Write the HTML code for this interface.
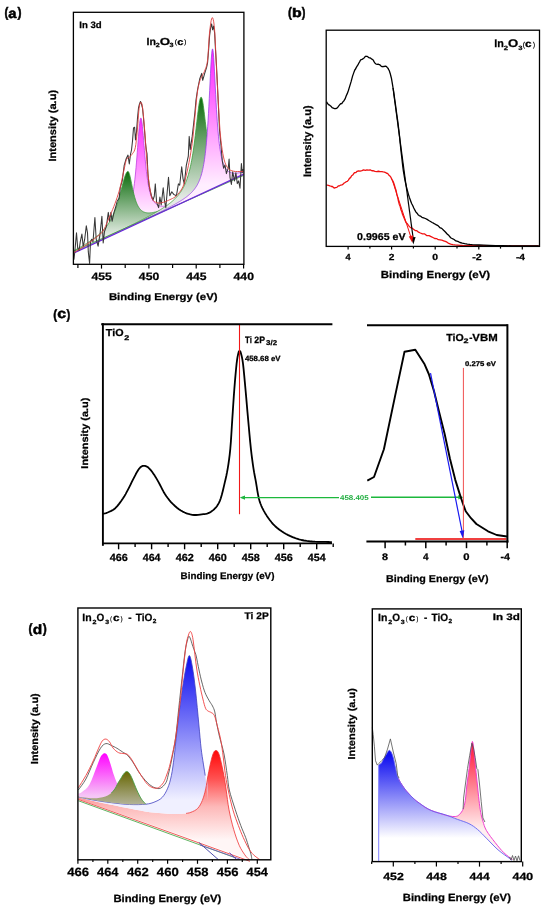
<!DOCTYPE html><html><head><meta charset="utf-8"><style>html,body{margin:0;padding:0;background:#fff;width:550px;height:910px;overflow:hidden}svg{display:block} #w{will-change:transform;width:550px;height:910px}</style></head><body><div id="w"><svg width="550" height="910" viewBox="0 0 550 910" text-rendering="geometricPrecision" font-family='"Liberation Sans", sans-serif'>
<rect width="550" height="910" fill="#fff"/>
<defs>
<linearGradient id="ga_gs" gradientUnits="userSpaceOnUse" x1="0" y1="172" x2="0" y2="238"><stop offset="0" stop-color="#0c6c0c" stop-opacity="1"/><stop offset="1" stop-color="#eef2ee" stop-opacity="1"/></linearGradient>
<linearGradient id="ga_gb" gradientUnits="userSpaceOnUse" x1="0" y1="97" x2="0" y2="198"><stop offset="0" stop-color="#0c6c0c" stop-opacity="1"/><stop offset="1" stop-color="#e4eae4" stop-opacity="1"/></linearGradient>
<linearGradient id="ga_ps" gradientUnits="userSpaceOnUse" x1="0" y1="118" x2="0" y2="215"><stop offset="0" stop-color="#ff28ff" stop-opacity="1"/><stop offset="1" stop-color="#fff0ff" stop-opacity="1"/></linearGradient>
<linearGradient id="ga_pb" gradientUnits="userSpaceOnUse" x1="0" y1="49" x2="0" y2="185"><stop offset="0" stop-color="#ff20ff" stop-opacity="1"/><stop offset="1" stop-color="#ffeeff" stop-opacity="1"/></linearGradient>
</defs>
<path d="M74.00,252.10 L74.40,251.90 L74.80,251.71 L75.20,251.52 L75.60,251.33 L76.00,251.14 L76.40,250.94 L76.80,250.75 L77.20,250.56 L77.60,250.36 L78.00,250.17 L78.40,249.98 L78.80,249.78 L79.20,249.59 L79.60,249.39 L80.00,249.20 L80.40,249.01 L80.80,248.81 L81.20,248.62 L81.60,248.42 L82.00,248.23 L82.40,248.03 L82.81,247.83 L83.21,247.64 L83.61,247.44 L84.01,247.25 L84.41,247.05 L84.81,246.85 L85.21,246.66 L85.61,246.46 L86.01,246.26 L86.41,246.06 L86.81,245.86 L87.21,245.66 L87.61,245.47 L88.01,245.27 L88.41,245.07 L88.81,244.87 L89.21,244.67 L89.61,244.47 L90.01,244.26 L90.41,244.06 L90.81,243.86 L91.21,243.66 L91.61,243.46 L92.01,243.25 L92.41,243.05 L92.81,242.84 L93.21,242.64 L93.61,242.43 L94.01,242.23 L94.41,242.02 L94.81,241.82 L95.21,241.61 L95.61,241.40 L96.01,241.19 L96.41,240.98 L96.81,240.77 L97.21,240.56 L97.61,240.35 L98.01,240.14 L98.41,239.93 L98.81,239.71 L99.21,239.50 L99.62,239.28 L100.02,239.07 L100.42,238.85 L100.82,238.63 L101.22,238.41 L101.62,238.19 L102.02,237.97 L102.42,237.75 L102.82,237.53 L103.22,237.30 L103.62,237.07 L104.02,236.85 L104.42,236.62 L104.82,236.39 L105.22,236.16 L105.62,235.92 L106.02,235.69 L106.42,235.45 L106.82,235.21 L107.22,234.97 L107.62,234.73 L108.02,234.49 L108.42,234.24 L108.82,233.99 L109.22,233.74 L109.62,233.49 L110.02,233.23 L110.42,232.97 L110.82,232.71 L111.22,232.45 L111.62,232.18 L112.02,231.91 L112.42,231.63 L112.82,231.35 L113.22,231.07 L113.62,230.78 L114.02,230.49 L114.42,230.20 L114.82,229.90 L115.22,229.59 L115.62,229.28 L116.02,228.96 L116.43,228.64 L116.83,228.31 L117.23,227.97 L117.63,227.63 L118.03,227.27 L118.43,226.91 L118.83,226.54 L119.23,226.16 L119.63,225.77 L120.03,225.37 L120.43,224.96 L120.83,224.53 L121.23,224.09 L121.63,223.64 L122.03,223.17 L122.43,222.68 L122.83,222.18 L123.23,221.65 L123.63,221.11 L124.03,220.54 L124.43,219.94 L124.83,219.32 L125.23,218.67 L125.63,217.99 L126.03,217.27 L126.43,216.51 L126.83,215.71 L127.23,214.87 L127.63,213.97 L128.03,213.02 L128.43,212.01 L128.83,210.93 L129.23,209.78 L129.63,208.54 L130.03,207.22 L130.43,205.80 L130.83,204.27 L131.23,202.62 L131.63,200.83 L132.03,198.90 L132.43,196.80 L132.83,194.52 L133.23,192.05 L133.64,189.35 L134.04,186.42 L134.44,183.23 L134.84,179.76 L135.24,176.00 L135.64,171.94 L136.04,167.58 L136.44,162.91 L136.84,157.97 L137.24,152.79 L137.64,147.47 L138.04,142.09 L138.44,136.80 L138.84,131.79 L139.24,127.25 L139.64,123.40 L140.04,120.46 L140.44,118.59 L140.84,117.92 L141.24,118.46 L141.64,120.19 L142.04,122.95 L142.44,126.59 L142.84,130.87 L143.24,135.58 L143.64,140.53 L144.04,145.54 L144.44,150.47 L144.84,155.23 L145.24,159.76 L145.64,164.00 L146.04,167.94 L146.44,171.57 L146.84,174.90 L147.24,177.94 L147.64,180.71 L148.04,183.22 L148.44,185.50 L148.84,187.57 L149.24,189.44 L149.64,191.14 L150.04,192.67 L150.45,194.06 L150.85,195.32 L151.25,196.46 L151.65,197.49 L152.05,198.43 L152.45,199.27 L152.85,200.04 L153.25,200.74 L153.65,201.37 L154.05,201.94 L154.45,202.45 L154.85,202.92 L155.25,203.34 L155.65,203.72 L156.05,204.06 L156.45,204.37 L156.85,204.65 L157.25,204.90 L157.65,205.12 L158.05,205.31 L158.45,205.49 L158.85,205.64 L159.25,205.77 L159.65,205.88 L160.05,205.98 L160.45,206.06 L160.85,206.13 L161.25,206.19 L161.65,206.23 L162.05,206.26 L162.45,206.28 L162.85,206.28 L163.25,206.28 L163.65,206.27 L164.05,206.26 L164.45,206.23 L164.85,206.20 L165.25,206.16 L165.65,206.11 L166.05,206.06 L166.45,206.00 L166.85,205.93 L167.26,205.86 L167.66,205.79 L168.06,205.71 L168.46,205.63 L168.86,205.54 L169.26,205.45 L169.66,205.35 L170.06,205.26 L170.46,205.15 L170.86,205.05 L171.26,204.94 L171.66,204.83 L172.06,204.72 L172.46,204.60 L172.86,204.48 L173.26,204.36 L173.66,204.24 L174.06,204.11 L174.46,203.99 L174.86,203.86 L175.26,203.73 L175.66,203.59 L176.06,203.46 L176.46,203.32 L176.86,203.19 L177.26,203.05 L177.66,202.91 L178.06,202.76 L178.46,202.62 L178.86,202.48 L179.26,202.33 L179.66,202.18 L180.06,202.04 L180.46,201.89 L180.86,201.74 L181.26,201.59 L181.66,201.43 L182.06,201.28 L182.46,201.13 L182.86,200.97 L183.26,200.82 L183.66,200.66 L184.07,200.50 L184.47,200.34 L184.87,200.19 L185.27,200.03 L185.67,199.87 L186.07,199.71 L186.47,199.55 L186.87,199.38 L187.27,199.22 L187.67,199.06 L188.07,198.89 L188.47,198.73 L188.87,198.57 L189.27,198.40 L189.67,198.24 L190.07,198.07 L190.47,197.90 L190.87,197.74 L191.27,197.57 L191.67,197.40 L192.07,197.23 L192.47,197.07 L192.87,196.90 L193.27,196.73 L193.67,196.56 L194.07,196.39 L194.47,196.22 L194.87,196.05 L195.27,195.88 L195.67,195.71 L196.07,195.54 L196.47,195.36 L196.87,195.19 L197.27,195.02 L197.67,194.85 L198.07,194.68 L198.47,194.50 L198.87,194.33 L199.27,194.16 L199.67,193.98 L200.07,193.81 L200.47,193.63 L200.87,193.46 L201.28,193.29 L201.68,193.11 L202.08,192.94 L202.48,192.76 L202.88,192.59 L203.28,192.41 L203.68,192.24 L204.08,192.06 L204.48,191.88 L204.88,191.71 L205.28,191.53 L205.68,191.36 L206.08,191.18 L206.48,191.00 L206.88,190.83 L207.28,190.65 L207.68,190.47 L208.08,190.30 L208.48,190.12 L208.88,189.94 L209.28,189.76 L209.68,189.59 L210.08,189.41 L210.48,189.23 L210.88,189.05 L211.28,188.87 L211.68,188.70 L212.08,188.52 L212.48,188.34 L212.88,188.16 L213.28,187.98 L213.68,187.80 L214.08,187.62 L214.48,187.45 L214.88,187.27 L215.28,187.09 L215.68,186.91 L216.08,186.73 L216.48,186.55 L216.88,186.37 L217.28,186.19 L217.68,186.01 L218.09,185.83 L218.49,185.65 L218.89,185.47 L219.29,185.29 L219.69,185.11 L220.09,184.93 L220.49,184.75 L220.89,184.57 L221.29,184.39 L221.69,184.21 L222.09,184.03 L222.49,183.85 L222.89,183.67 L223.29,183.49 L223.69,183.31 L224.09,183.13 L224.49,182.95 L224.89,182.77 L225.29,182.59 L225.69,182.41 L226.09,182.22 L226.49,182.04 L226.89,181.86 L227.29,181.68 L227.69,181.50 L228.09,181.32 L228.49,181.14 L228.89,180.96 L229.29,180.78 L229.69,180.59 L230.09,180.41 L230.49,180.23 L230.89,180.05 L231.29,179.87 L231.69,179.69 L232.09,179.51 L232.49,179.32 L232.89,179.14 L233.29,178.96 L233.69,178.78 L234.09,178.60 L234.49,178.42 L234.90,178.23 L235.30,178.05 L235.70,177.87 L236.10,177.69 L236.50,177.51 L236.90,177.32 L237.30,177.14 L237.70,176.96 L238.10,176.78 L238.50,176.60 L238.90,176.41 L239.30,176.23 L239.70,176.05 L240.10,175.87 L240.50,175.69 L240.90,175.50 L241.30,175.32 L241.70,175.14 L242.10,174.96 L242.50,174.77 L242.90,174.59 L243.30,174.41 L243.30,174.68 L74.00,252.72Z" fill="url(#ga_ps)" stroke="none" />
<path d="M74.00,252.10 L74.40,251.90 L74.80,251.71 L75.20,251.52 L75.60,251.33 L76.00,251.14 L76.40,250.94 L76.80,250.75 L77.20,250.56 L77.60,250.36 L78.00,250.17 L78.40,249.98 L78.80,249.78 L79.20,249.59 L79.60,249.39 L80.00,249.20 L80.40,249.01 L80.80,248.81 L81.20,248.62 L81.60,248.42 L82.00,248.23 L82.40,248.03 L82.81,247.83 L83.21,247.64 L83.61,247.44 L84.01,247.25 L84.41,247.05 L84.81,246.85 L85.21,246.66 L85.61,246.46 L86.01,246.26 L86.41,246.06 L86.81,245.86 L87.21,245.66 L87.61,245.47 L88.01,245.27 L88.41,245.07 L88.81,244.87 L89.21,244.67 L89.61,244.47 L90.01,244.26 L90.41,244.06 L90.81,243.86 L91.21,243.66 L91.61,243.46 L92.01,243.25 L92.41,243.05 L92.81,242.84 L93.21,242.64 L93.61,242.43 L94.01,242.23 L94.41,242.02 L94.81,241.82 L95.21,241.61 L95.61,241.40 L96.01,241.19 L96.41,240.98 L96.81,240.77 L97.21,240.56 L97.61,240.35 L98.01,240.14 L98.41,239.93 L98.81,239.71 L99.21,239.50 L99.62,239.28 L100.02,239.07 L100.42,238.85 L100.82,238.63 L101.22,238.41 L101.62,238.19 L102.02,237.97 L102.42,237.75 L102.82,237.53 L103.22,237.30 L103.62,237.07 L104.02,236.85 L104.42,236.62 L104.82,236.39 L105.22,236.16 L105.62,235.92 L106.02,235.69 L106.42,235.45 L106.82,235.21 L107.22,234.97 L107.62,234.73 L108.02,234.49 L108.42,234.24 L108.82,233.99 L109.22,233.74 L109.62,233.49 L110.02,233.23 L110.42,232.97 L110.82,232.71 L111.22,232.45 L111.62,232.18 L112.02,231.91 L112.42,231.63 L112.82,231.35 L113.22,231.07 L113.62,230.78 L114.02,230.49 L114.42,230.20 L114.82,229.90 L115.22,229.59 L115.62,229.28 L116.02,228.96 L116.43,228.64 L116.83,228.31 L117.23,227.97 L117.63,227.63 L118.03,227.27 L118.43,226.91 L118.83,226.54 L119.23,226.16 L119.63,225.77 L120.03,225.37 L120.43,224.96 L120.83,224.53 L121.23,224.09 L121.63,223.64 L122.03,223.17 L122.43,222.68 L122.83,222.18 L123.23,221.65 L123.63,221.11 L124.03,220.54 L124.43,219.94 L124.83,219.32 L125.23,218.67 L125.63,217.99 L126.03,217.27 L126.43,216.51 L126.83,215.71 L127.23,214.87 L127.63,213.97 L128.03,213.02 L128.43,212.01 L128.83,210.93 L129.23,209.78 L129.63,208.54 L130.03,207.22 L130.43,205.80 L130.83,204.27 L131.23,202.62 L131.63,200.83 L132.03,198.90 L132.43,196.80 L132.83,194.52 L133.23,192.05 L133.64,189.35 L134.04,186.42 L134.44,183.23 L134.84,179.76 L135.24,176.00 L135.64,171.94 L136.04,167.58 L136.44,162.91 L136.84,157.97 L137.24,152.79 L137.64,147.47 L138.04,142.09 L138.44,136.80 L138.84,131.79 L139.24,127.25 L139.64,123.40 L140.04,120.46 L140.44,118.59 L140.84,117.92 L141.24,118.46 L141.64,120.19 L142.04,122.95 L142.44,126.59 L142.84,130.87 L143.24,135.58 L143.64,140.53 L144.04,145.54 L144.44,150.47 L144.84,155.23 L145.24,159.76 L145.64,164.00 L146.04,167.94 L146.44,171.57 L146.84,174.90 L147.24,177.94 L147.64,180.71 L148.04,183.22 L148.44,185.50 L148.84,187.57 L149.24,189.44 L149.64,191.14 L150.04,192.67 L150.45,194.06 L150.85,195.32 L151.25,196.46 L151.65,197.49 L152.05,198.43 L152.45,199.27 L152.85,200.04 L153.25,200.74 L153.65,201.37 L154.05,201.94 L154.45,202.45 L154.85,202.92 L155.25,203.34 L155.65,203.72 L156.05,204.06 L156.45,204.37 L156.85,204.65 L157.25,204.90 L157.65,205.12 L158.05,205.31 L158.45,205.49 L158.85,205.64 L159.25,205.77 L159.65,205.88 L160.05,205.98 L160.45,206.06 L160.85,206.13 L161.25,206.19 L161.65,206.23 L162.05,206.26 L162.45,206.28 L162.85,206.28 L163.25,206.28 L163.65,206.27 L164.05,206.26 L164.45,206.23 L164.85,206.20 L165.25,206.16 L165.65,206.11 L166.05,206.06 L166.45,206.00 L166.85,205.93 L167.26,205.86 L167.66,205.79 L168.06,205.71 L168.46,205.63 L168.86,205.54 L169.26,205.45 L169.66,205.35 L170.06,205.26 L170.46,205.15 L170.86,205.05 L171.26,204.94 L171.66,204.83 L172.06,204.72 L172.46,204.60 L172.86,204.48 L173.26,204.36 L173.66,204.24 L174.06,204.11 L174.46,203.99 L174.86,203.86 L175.26,203.73 L175.66,203.59 L176.06,203.46 L176.46,203.32 L176.86,203.19 L177.26,203.05 L177.66,202.91 L178.06,202.76 L178.46,202.62 L178.86,202.48 L179.26,202.33 L179.66,202.18 L180.06,202.04 L180.46,201.89 L180.86,201.74 L181.26,201.59 L181.66,201.43 L182.06,201.28 L182.46,201.13 L182.86,200.97 L183.26,200.82 L183.66,200.66 L184.07,200.50 L184.47,200.34 L184.87,200.19 L185.27,200.03 L185.67,199.87 L186.07,199.71 L186.47,199.55 L186.87,199.38 L187.27,199.22 L187.67,199.06 L188.07,198.89 L188.47,198.73 L188.87,198.57 L189.27,198.40 L189.67,198.24 L190.07,198.07 L190.47,197.90 L190.87,197.74 L191.27,197.57 L191.67,197.40 L192.07,197.23 L192.47,197.07 L192.87,196.90 L193.27,196.73 L193.67,196.56 L194.07,196.39 L194.47,196.22 L194.87,196.05 L195.27,195.88 L195.67,195.71 L196.07,195.54 L196.47,195.36 L196.87,195.19 L197.27,195.02 L197.67,194.85 L198.07,194.68 L198.47,194.50 L198.87,194.33 L199.27,194.16 L199.67,193.98 L200.07,193.81 L200.47,193.63 L200.87,193.46 L201.28,193.29 L201.68,193.11 L202.08,192.94 L202.48,192.76 L202.88,192.59 L203.28,192.41 L203.68,192.24 L204.08,192.06 L204.48,191.88 L204.88,191.71 L205.28,191.53 L205.68,191.36 L206.08,191.18 L206.48,191.00 L206.88,190.83 L207.28,190.65 L207.68,190.47 L208.08,190.30 L208.48,190.12 L208.88,189.94 L209.28,189.76 L209.68,189.59 L210.08,189.41 L210.48,189.23 L210.88,189.05 L211.28,188.87 L211.68,188.70 L212.08,188.52 L212.48,188.34 L212.88,188.16 L213.28,187.98 L213.68,187.80 L214.08,187.62 L214.48,187.45 L214.88,187.27 L215.28,187.09 L215.68,186.91 L216.08,186.73 L216.48,186.55 L216.88,186.37 L217.28,186.19 L217.68,186.01 L218.09,185.83 L218.49,185.65 L218.89,185.47 L219.29,185.29 L219.69,185.11 L220.09,184.93 L220.49,184.75 L220.89,184.57 L221.29,184.39 L221.69,184.21 L222.09,184.03 L222.49,183.85 L222.89,183.67 L223.29,183.49 L223.69,183.31 L224.09,183.13 L224.49,182.95 L224.89,182.77 L225.29,182.59 L225.69,182.41 L226.09,182.22 L226.49,182.04 L226.89,181.86 L227.29,181.68 L227.69,181.50 L228.09,181.32 L228.49,181.14 L228.89,180.96 L229.29,180.78 L229.69,180.59 L230.09,180.41 L230.49,180.23 L230.89,180.05 L231.29,179.87 L231.69,179.69 L232.09,179.51 L232.49,179.32 L232.89,179.14 L233.29,178.96 L233.69,178.78 L234.09,178.60 L234.49,178.42 L234.90,178.23 L235.30,178.05 L235.70,177.87 L236.10,177.69 L236.50,177.51 L236.90,177.32 L237.30,177.14 L237.70,176.96 L238.10,176.78 L238.50,176.60 L238.90,176.41 L239.30,176.23 L239.70,176.05 L240.10,175.87 L240.50,175.69 L240.90,175.50 L241.30,175.32 L241.70,175.14 L242.10,174.96 L242.50,174.77 L242.90,174.59 L243.30,174.41" stroke="#c040e0" stroke-width="0.8" fill="none" stroke-linejoin="round" />
<path d="M74.00,250.60 L74.40,250.39 L74.80,250.17 L75.20,249.95 L75.60,249.74 L76.00,249.52 L76.40,249.30 L76.80,249.08 L77.20,248.86 L77.60,248.64 L78.00,248.42 L78.40,248.19 L78.80,247.97 L79.20,247.74 L79.60,247.52 L80.00,247.29 L80.40,247.06 L80.80,246.84 L81.20,246.61 L81.60,246.38 L82.00,246.14 L82.40,245.91 L82.81,245.68 L83.21,245.44 L83.61,245.20 L84.01,244.96 L84.41,244.73 L84.81,244.48 L85.21,244.24 L85.61,244.00 L86.01,243.75 L86.41,243.50 L86.81,243.26 L87.21,243.00 L87.61,242.75 L88.01,242.50 L88.41,242.24 L88.81,241.98 L89.21,241.72 L89.61,241.46 L90.01,241.19 L90.41,240.93 L90.81,240.66 L91.21,240.38 L91.61,240.11 L92.01,239.83 L92.41,239.55 L92.81,239.27 L93.21,238.98 L93.61,238.69 L94.01,238.40 L94.41,238.10 L94.81,237.80 L95.21,237.50 L95.61,237.19 L96.01,236.88 L96.41,236.56 L96.81,236.24 L97.21,235.92 L97.61,235.59 L98.01,235.25 L98.41,234.91 L98.81,234.57 L99.21,234.21 L99.62,233.86 L100.02,233.49 L100.42,233.12 L100.82,232.75 L101.22,232.36 L101.62,231.97 L102.02,231.57 L102.42,231.16 L102.82,230.75 L103.22,230.32 L103.62,229.88 L104.02,229.44 L104.42,228.98 L104.82,228.52 L105.22,228.04 L105.62,227.55 L106.02,227.04 L106.42,226.53 L106.82,226.00 L107.22,225.45 L107.62,224.89 L108.02,224.31 L108.42,223.72 L108.82,223.11 L109.22,222.47 L109.62,221.82 L110.02,221.15 L110.42,220.46 L110.82,219.74 L111.22,219.00 L111.62,218.23 L112.02,217.44 L112.42,216.62 L112.82,215.77 L113.22,214.89 L113.62,213.98 L114.02,213.03 L114.42,212.05 L114.82,211.04 L115.22,209.99 L115.62,208.90 L116.02,207.78 L116.43,206.61 L116.83,205.40 L117.23,204.16 L117.63,202.87 L118.03,201.55 L118.43,200.18 L118.83,198.78 L119.23,197.34 L119.63,195.87 L120.03,194.36 L120.43,192.84 L120.83,191.29 L121.23,189.72 L121.63,188.15 L122.03,186.58 L122.43,185.02 L122.83,183.48 L123.23,181.98 L123.63,180.52 L124.03,179.12 L124.43,177.79 L124.83,176.56 L125.23,175.42 L125.63,174.40 L126.03,173.51 L126.43,172.75 L126.83,172.15 L127.23,171.69 L127.63,171.40 L128.03,171.35 L128.43,171.68 L128.83,172.37 L129.23,173.40 L129.63,174.71 L130.03,176.25 L130.43,177.98 L130.83,179.84 L131.23,181.77 L131.63,183.75 L132.03,185.72 L132.43,187.66 L132.83,189.55 L133.23,191.37 L133.64,193.11 L134.04,194.75 L134.44,196.29 L134.84,197.74 L135.24,199.09 L135.64,200.35 L136.04,201.51 L136.44,202.59 L136.84,203.58 L137.24,204.50 L137.64,205.34 L138.04,206.11 L138.44,206.82 L138.84,207.47 L139.24,208.06 L139.64,208.60 L140.04,209.09 L140.44,209.54 L140.84,209.95 L141.24,210.33 L141.64,210.66 L142.04,210.97 L142.44,211.24 L142.84,211.49 L143.24,211.71 L143.64,211.91 L144.04,212.08 L144.44,212.23 L144.84,212.37 L145.24,212.49 L145.64,212.59 L146.04,212.67 L146.44,212.74 L146.84,212.80 L147.24,212.85 L147.64,212.88 L148.04,212.90 L148.44,212.91 L148.84,212.91 L149.24,212.91 L149.64,212.89 L150.04,212.87 L150.45,212.84 L150.85,212.80 L151.25,212.76 L151.65,212.70 L152.05,212.65 L152.45,212.59 L152.85,212.52 L153.25,212.45 L153.65,212.37 L154.05,212.29 L154.45,212.20 L154.85,212.11 L155.25,212.02 L155.65,211.92 L156.05,211.82 L156.45,211.72 L156.85,211.61 L157.25,211.50 L157.65,211.39 L158.05,211.27 L158.45,211.15 L158.85,211.03 L159.25,210.91 L159.65,210.79 L160.05,210.66 L160.45,210.53 L160.85,210.40 L161.25,210.27 L161.65,210.13 L162.05,210.00 L162.45,209.86 L162.85,209.72 L163.25,209.58 L163.65,209.44 L164.05,209.30 L164.45,209.15 L164.85,209.01 L165.25,208.86 L165.65,208.71 L166.05,208.56 L166.45,208.41 L166.85,208.26 L167.26,208.11 L167.66,207.96 L168.06,207.80 L168.46,207.65 L168.86,207.49 L169.26,207.33 L169.66,207.18 L170.06,207.02 L170.46,206.86 L170.86,206.70 L171.26,206.54 L171.66,206.38 L172.06,206.22 L172.46,206.06 L172.86,205.89 L173.26,205.73 L173.66,205.57 L174.06,205.40 L174.46,205.24 L174.86,205.07 L175.26,204.91 L175.66,204.74 L176.06,204.58 L176.46,204.41 L176.86,204.24 L177.26,204.07 L177.66,203.91 L178.06,203.74 L178.46,203.57 L178.86,203.40 L179.26,203.23 L179.66,203.06 L180.06,202.89 L180.46,202.72 L180.86,202.55 L181.26,202.38 L181.66,202.21 L182.06,202.03 L182.46,201.86 L182.86,201.69 L183.26,201.52 L183.66,201.34 L184.07,201.17 L184.47,201.00 L184.87,200.82 L185.27,200.65 L185.67,200.48 L186.07,200.30 L186.47,200.13 L186.87,199.95 L187.27,199.78 L187.67,199.60 L188.07,199.43 L188.47,199.25 L188.87,199.08 L189.27,198.90 L189.67,198.73 L190.07,198.55 L190.47,198.37 L190.87,198.20 L191.27,198.02 L191.67,197.85 L192.07,197.67 L192.47,197.49 L192.87,197.31 L193.27,197.14 L193.67,196.96 L194.07,196.78 L194.47,196.61 L194.87,196.43 L195.27,196.25 L195.67,196.07 L196.07,195.89 L196.47,195.72 L196.87,195.54 L197.27,195.36 L197.67,195.18 L198.07,195.00 L198.47,194.82 L198.87,194.64 L199.27,194.47 L199.67,194.29 L200.07,194.11 L200.47,193.93 L200.87,193.75 L201.28,193.57 L201.68,193.39 L202.08,193.21 L202.48,193.03 L202.88,192.85 L203.28,192.67 L203.68,192.49 L204.08,192.31 L204.48,192.13 L204.88,191.95 L205.28,191.77 L205.68,191.59 L206.08,191.41 L206.48,191.23 L206.88,191.05 L207.28,190.87 L207.68,190.69 L208.08,190.51 L208.48,190.33 L208.88,190.15 L209.28,189.97 L209.68,189.79 L210.08,189.61 L210.48,189.43 L210.88,189.25 L211.28,189.06 L211.68,188.88 L212.08,188.70 L212.48,188.52 L212.88,188.34 L213.28,188.16 L213.68,187.98 L214.08,187.80 L214.48,187.62 L214.88,187.43 L215.28,187.25 L215.68,187.07 L216.08,186.89 L216.48,186.71 L216.88,186.53 L217.28,186.34 L217.68,186.16 L218.09,185.98 L218.49,185.80 L218.89,185.62 L219.29,185.44 L219.69,185.25 L220.09,185.07 L220.49,184.89 L220.89,184.71 L221.29,184.53 L221.69,184.34 L222.09,184.16 L222.49,183.98 L222.89,183.80 L223.29,183.62 L223.69,183.43 L224.09,183.25 L224.49,183.07 L224.89,182.89 L225.29,182.71 L225.69,182.52 L226.09,182.34 L226.49,182.16 L226.89,181.98 L227.29,181.79 L227.69,181.61 L228.09,181.43 L228.49,181.25 L228.89,181.06 L229.29,180.88 L229.69,180.70 L230.09,180.52 L230.49,180.33 L230.89,180.15 L231.29,179.97 L231.69,179.79 L232.09,179.60 L232.49,179.42 L232.89,179.24 L233.29,179.06 L233.69,178.87 L234.09,178.69 L234.49,178.51 L234.90,178.32 L235.30,178.14 L235.70,177.96 L236.10,177.78 L236.50,177.59 L236.90,177.41 L237.30,177.23 L237.70,177.04 L238.10,176.86 L238.50,176.68 L238.90,176.49 L239.30,176.31 L239.70,176.13 L240.10,175.95 L240.50,175.76 L240.90,175.58 L241.30,175.40 L241.70,175.21 L242.10,175.03 L242.50,174.85 L242.90,174.66 L243.30,174.48 L243.30,174.68 L74.00,252.72Z" fill="url(#ga_gs)" stroke="none" />
<path d="M74.00,250.60 L74.40,250.39 L74.80,250.17 L75.20,249.95 L75.60,249.74 L76.00,249.52 L76.40,249.30 L76.80,249.08 L77.20,248.86 L77.60,248.64 L78.00,248.42 L78.40,248.19 L78.80,247.97 L79.20,247.74 L79.60,247.52 L80.00,247.29 L80.40,247.06 L80.80,246.84 L81.20,246.61 L81.60,246.38 L82.00,246.14 L82.40,245.91 L82.81,245.68 L83.21,245.44 L83.61,245.20 L84.01,244.96 L84.41,244.73 L84.81,244.48 L85.21,244.24 L85.61,244.00 L86.01,243.75 L86.41,243.50 L86.81,243.26 L87.21,243.00 L87.61,242.75 L88.01,242.50 L88.41,242.24 L88.81,241.98 L89.21,241.72 L89.61,241.46 L90.01,241.19 L90.41,240.93 L90.81,240.66 L91.21,240.38 L91.61,240.11 L92.01,239.83 L92.41,239.55 L92.81,239.27 L93.21,238.98 L93.61,238.69 L94.01,238.40 L94.41,238.10 L94.81,237.80 L95.21,237.50 L95.61,237.19 L96.01,236.88 L96.41,236.56 L96.81,236.24 L97.21,235.92 L97.61,235.59 L98.01,235.25 L98.41,234.91 L98.81,234.57 L99.21,234.21 L99.62,233.86 L100.02,233.49 L100.42,233.12 L100.82,232.75 L101.22,232.36 L101.62,231.97 L102.02,231.57 L102.42,231.16 L102.82,230.75 L103.22,230.32 L103.62,229.88 L104.02,229.44 L104.42,228.98 L104.82,228.52 L105.22,228.04 L105.62,227.55 L106.02,227.04 L106.42,226.53 L106.82,226.00 L107.22,225.45 L107.62,224.89 L108.02,224.31 L108.42,223.72 L108.82,223.11 L109.22,222.47 L109.62,221.82 L110.02,221.15 L110.42,220.46 L110.82,219.74 L111.22,219.00 L111.62,218.23 L112.02,217.44 L112.42,216.62 L112.82,215.77 L113.22,214.89 L113.62,213.98 L114.02,213.03 L114.42,212.05 L114.82,211.04 L115.22,209.99 L115.62,208.90 L116.02,207.78 L116.43,206.61 L116.83,205.40 L117.23,204.16 L117.63,202.87 L118.03,201.55 L118.43,200.18 L118.83,198.78 L119.23,197.34 L119.63,195.87 L120.03,194.36 L120.43,192.84 L120.83,191.29 L121.23,189.72 L121.63,188.15 L122.03,186.58 L122.43,185.02 L122.83,183.48 L123.23,181.98 L123.63,180.52 L124.03,179.12 L124.43,177.79 L124.83,176.56 L125.23,175.42 L125.63,174.40 L126.03,173.51 L126.43,172.75 L126.83,172.15 L127.23,171.69 L127.63,171.40 L128.03,171.35 L128.43,171.68 L128.83,172.37 L129.23,173.40 L129.63,174.71 L130.03,176.25 L130.43,177.98 L130.83,179.84 L131.23,181.77 L131.63,183.75 L132.03,185.72 L132.43,187.66 L132.83,189.55 L133.23,191.37 L133.64,193.11 L134.04,194.75 L134.44,196.29 L134.84,197.74 L135.24,199.09 L135.64,200.35 L136.04,201.51 L136.44,202.59 L136.84,203.58 L137.24,204.50 L137.64,205.34 L138.04,206.11 L138.44,206.82 L138.84,207.47 L139.24,208.06 L139.64,208.60 L140.04,209.09 L140.44,209.54 L140.84,209.95 L141.24,210.33 L141.64,210.66 L142.04,210.97 L142.44,211.24 L142.84,211.49 L143.24,211.71 L143.64,211.91 L144.04,212.08 L144.44,212.23 L144.84,212.37 L145.24,212.49 L145.64,212.59 L146.04,212.67 L146.44,212.74 L146.84,212.80 L147.24,212.85 L147.64,212.88 L148.04,212.90 L148.44,212.91 L148.84,212.91 L149.24,212.91 L149.64,212.89 L150.04,212.87 L150.45,212.84 L150.85,212.80 L151.25,212.76 L151.65,212.70 L152.05,212.65 L152.45,212.59 L152.85,212.52 L153.25,212.45 L153.65,212.37 L154.05,212.29 L154.45,212.20 L154.85,212.11 L155.25,212.02 L155.65,211.92 L156.05,211.82 L156.45,211.72 L156.85,211.61 L157.25,211.50 L157.65,211.39 L158.05,211.27 L158.45,211.15 L158.85,211.03 L159.25,210.91 L159.65,210.79 L160.05,210.66 L160.45,210.53 L160.85,210.40 L161.25,210.27 L161.65,210.13 L162.05,210.00 L162.45,209.86 L162.85,209.72 L163.25,209.58 L163.65,209.44 L164.05,209.30 L164.45,209.15 L164.85,209.01 L165.25,208.86 L165.65,208.71 L166.05,208.56 L166.45,208.41 L166.85,208.26 L167.26,208.11 L167.66,207.96 L168.06,207.80 L168.46,207.65 L168.86,207.49 L169.26,207.33 L169.66,207.18 L170.06,207.02 L170.46,206.86 L170.86,206.70 L171.26,206.54 L171.66,206.38 L172.06,206.22 L172.46,206.06 L172.86,205.89 L173.26,205.73 L173.66,205.57 L174.06,205.40 L174.46,205.24 L174.86,205.07 L175.26,204.91 L175.66,204.74 L176.06,204.58 L176.46,204.41 L176.86,204.24 L177.26,204.07 L177.66,203.91 L178.06,203.74 L178.46,203.57 L178.86,203.40 L179.26,203.23 L179.66,203.06 L180.06,202.89 L180.46,202.72 L180.86,202.55 L181.26,202.38 L181.66,202.21 L182.06,202.03 L182.46,201.86 L182.86,201.69 L183.26,201.52 L183.66,201.34 L184.07,201.17 L184.47,201.00 L184.87,200.82 L185.27,200.65 L185.67,200.48 L186.07,200.30 L186.47,200.13 L186.87,199.95 L187.27,199.78 L187.67,199.60 L188.07,199.43 L188.47,199.25 L188.87,199.08 L189.27,198.90 L189.67,198.73 L190.07,198.55 L190.47,198.37 L190.87,198.20 L191.27,198.02 L191.67,197.85 L192.07,197.67 L192.47,197.49 L192.87,197.31 L193.27,197.14 L193.67,196.96 L194.07,196.78 L194.47,196.61 L194.87,196.43 L195.27,196.25 L195.67,196.07 L196.07,195.89 L196.47,195.72 L196.87,195.54 L197.27,195.36 L197.67,195.18 L198.07,195.00 L198.47,194.82 L198.87,194.64 L199.27,194.47 L199.67,194.29 L200.07,194.11 L200.47,193.93 L200.87,193.75 L201.28,193.57 L201.68,193.39 L202.08,193.21 L202.48,193.03 L202.88,192.85 L203.28,192.67 L203.68,192.49 L204.08,192.31 L204.48,192.13 L204.88,191.95 L205.28,191.77 L205.68,191.59 L206.08,191.41 L206.48,191.23 L206.88,191.05 L207.28,190.87 L207.68,190.69 L208.08,190.51 L208.48,190.33 L208.88,190.15 L209.28,189.97 L209.68,189.79 L210.08,189.61 L210.48,189.43 L210.88,189.25 L211.28,189.06 L211.68,188.88 L212.08,188.70 L212.48,188.52 L212.88,188.34 L213.28,188.16 L213.68,187.98 L214.08,187.80 L214.48,187.62 L214.88,187.43 L215.28,187.25 L215.68,187.07 L216.08,186.89 L216.48,186.71 L216.88,186.53 L217.28,186.34 L217.68,186.16 L218.09,185.98 L218.49,185.80 L218.89,185.62 L219.29,185.44 L219.69,185.25 L220.09,185.07 L220.49,184.89 L220.89,184.71 L221.29,184.53 L221.69,184.34 L222.09,184.16 L222.49,183.98 L222.89,183.80 L223.29,183.62 L223.69,183.43 L224.09,183.25 L224.49,183.07 L224.89,182.89 L225.29,182.71 L225.69,182.52 L226.09,182.34 L226.49,182.16 L226.89,181.98 L227.29,181.79 L227.69,181.61 L228.09,181.43 L228.49,181.25 L228.89,181.06 L229.29,180.88 L229.69,180.70 L230.09,180.52 L230.49,180.33 L230.89,180.15 L231.29,179.97 L231.69,179.79 L232.09,179.60 L232.49,179.42 L232.89,179.24 L233.29,179.06 L233.69,178.87 L234.09,178.69 L234.49,178.51 L234.90,178.32 L235.30,178.14 L235.70,177.96 L236.10,177.78 L236.50,177.59 L236.90,177.41 L237.30,177.23 L237.70,177.04 L238.10,176.86 L238.50,176.68 L238.90,176.49 L239.30,176.31 L239.70,176.13 L240.10,175.95 L240.50,175.76 L240.90,175.58 L241.30,175.40 L241.70,175.21 L242.10,175.03 L242.50,174.85 L242.90,174.66 L243.30,174.48" stroke="#3a9a3a" stroke-width="0.8" fill="none" stroke-linejoin="round" />
<path d="M74.00,252.39 L74.40,252.20 L74.80,252.01 L75.20,251.83 L75.60,251.64 L76.00,251.45 L76.40,251.27 L76.80,251.08 L77.20,250.89 L77.60,250.71 L78.00,250.52 L78.40,250.33 L78.80,250.15 L79.20,249.96 L79.60,249.77 L80.00,249.58 L80.40,249.40 L80.80,249.21 L81.20,249.02 L81.60,248.84 L82.00,248.65 L82.40,248.46 L82.81,248.28 L83.21,248.09 L83.61,247.90 L84.01,247.71 L84.41,247.53 L84.81,247.34 L85.21,247.15 L85.61,246.96 L86.01,246.78 L86.41,246.59 L86.81,246.40 L87.21,246.22 L87.61,246.03 L88.01,245.84 L88.41,245.65 L88.81,245.47 L89.21,245.28 L89.61,245.09 L90.01,244.90 L90.41,244.71 L90.81,244.53 L91.21,244.34 L91.61,244.15 L92.01,243.96 L92.41,243.78 L92.81,243.59 L93.21,243.40 L93.61,243.21 L94.01,243.02 L94.41,242.84 L94.81,242.65 L95.21,242.46 L95.61,242.27 L96.01,242.08 L96.41,241.89 L96.81,241.71 L97.21,241.52 L97.61,241.33 L98.01,241.14 L98.41,240.95 L98.81,240.76 L99.21,240.58 L99.62,240.39 L100.02,240.20 L100.42,240.01 L100.82,239.82 L101.22,239.63 L101.62,239.44 L102.02,239.25 L102.42,239.07 L102.82,238.88 L103.22,238.69 L103.62,238.50 L104.02,238.31 L104.42,238.12 L104.82,237.93 L105.22,237.74 L105.62,237.55 L106.02,237.36 L106.42,237.17 L106.82,236.98 L107.22,236.79 L107.62,236.60 L108.02,236.41 L108.42,236.22 L108.82,236.03 L109.22,235.84 L109.62,235.65 L110.02,235.46 L110.42,235.27 L110.82,235.08 L111.22,234.89 L111.62,234.70 L112.02,234.51 L112.42,234.32 L112.82,234.13 L113.22,233.94 L113.62,233.75 L114.02,233.56 L114.42,233.37 L114.82,233.17 L115.22,232.98 L115.62,232.79 L116.02,232.60 L116.43,232.41 L116.83,232.22 L117.23,232.03 L117.63,231.83 L118.03,231.64 L118.43,231.45 L118.83,231.26 L119.23,231.06 L119.63,230.87 L120.03,230.68 L120.43,230.49 L120.83,230.29 L121.23,230.10 L121.63,229.91 L122.03,229.72 L122.43,229.52 L122.83,229.33 L123.23,229.13 L123.63,228.94 L124.03,228.75 L124.43,228.55 L124.83,228.36 L125.23,228.17 L125.63,227.97 L126.03,227.78 L126.43,227.58 L126.83,227.39 L127.23,227.19 L127.63,227.00 L128.03,226.80 L128.43,226.61 L128.83,226.41 L129.23,226.21 L129.63,226.02 L130.03,225.82 L130.43,225.62 L130.83,225.43 L131.23,225.23 L131.63,225.03 L132.03,224.84 L132.43,224.64 L132.83,224.44 L133.23,224.24 L133.64,224.04 L134.04,223.85 L134.44,223.65 L134.84,223.45 L135.24,223.25 L135.64,223.05 L136.04,222.85 L136.44,222.65 L136.84,222.45 L137.24,222.25 L137.64,222.05 L138.04,221.84 L138.44,221.64 L138.84,221.44 L139.24,221.24 L139.64,221.04 L140.04,220.83 L140.44,220.63 L140.84,220.43 L141.24,220.22 L141.64,220.02 L142.04,219.81 L142.44,219.61 L142.84,219.40 L143.24,219.19 L143.64,218.99 L144.04,218.78 L144.44,218.57 L144.84,218.37 L145.24,218.16 L145.64,217.95 L146.04,217.74 L146.44,217.53 L146.84,217.32 L147.24,217.11 L147.64,216.89 L148.04,216.68 L148.44,216.47 L148.84,216.26 L149.24,216.04 L149.64,215.83 L150.04,215.61 L150.45,215.39 L150.85,215.18 L151.25,214.96 L151.65,214.74 L152.05,214.52 L152.45,214.30 L152.85,214.08 L153.25,213.86 L153.65,213.63 L154.05,213.41 L154.45,213.18 L154.85,212.96 L155.25,212.73 L155.65,212.50 L156.05,212.27 L156.45,212.04 L156.85,211.81 L157.25,211.58 L157.65,211.34 L158.05,211.11 L158.45,210.87 L158.85,210.63 L159.25,210.39 L159.65,210.15 L160.05,209.91 L160.45,209.66 L160.85,209.41 L161.25,209.17 L161.65,208.92 L162.05,208.66 L162.45,208.41 L162.85,208.15 L163.25,207.89 L163.65,207.63 L164.05,207.37 L164.45,207.10 L164.85,206.84 L165.25,206.57 L165.65,206.29 L166.05,206.02 L166.45,205.74 L166.85,205.45 L167.26,205.17 L167.66,204.88 L168.06,204.58 L168.46,204.29 L168.86,203.99 L169.26,203.68 L169.66,203.37 L170.06,203.06 L170.46,202.74 L170.86,202.42 L171.26,202.09 L171.66,201.75 L172.06,201.41 L172.46,201.07 L172.86,200.72 L173.26,200.36 L173.66,199.99 L174.06,199.62 L174.46,199.24 L174.86,198.85 L175.26,198.45 L175.66,198.05 L176.06,197.63 L176.46,197.20 L176.86,196.77 L177.26,196.32 L177.66,195.86 L178.06,195.38 L178.46,194.90 L178.86,194.40 L179.26,193.88 L179.66,193.35 L180.06,192.80 L180.46,192.23 L180.86,191.64 L181.26,191.04 L181.66,190.41 L182.06,189.75 L182.46,189.08 L182.86,188.37 L183.26,187.64 L183.66,186.87 L184.07,186.08 L184.47,185.25 L184.87,184.38 L185.27,183.47 L185.67,182.52 L186.07,181.52 L186.47,180.48 L186.87,179.38 L187.27,178.22 L187.67,177.01 L188.07,175.73 L188.47,174.37 L188.87,172.95 L189.27,171.44 L189.67,169.85 L190.07,168.17 L190.47,166.39 L190.87,164.51 L191.27,162.51 L191.67,160.40 L192.07,158.17 L192.47,155.82 L192.87,153.33 L193.27,150.70 L193.67,147.94 L194.07,145.04 L194.47,142.00 L194.87,138.84 L195.27,135.56 L195.67,132.17 L196.07,128.70 L196.47,125.17 L196.87,121.63 L197.27,118.11 L197.67,114.66 L198.07,111.34 L198.47,108.23 L198.87,105.37 L199.27,102.85 L199.67,100.73 L200.07,99.06 L200.47,97.89 L200.87,97.26 L201.28,97.20 L201.68,97.76 L202.08,98.92 L202.48,100.62 L202.88,102.81 L203.28,105.40 L203.68,108.32 L204.08,111.46 L204.48,114.77 L204.88,118.16 L205.28,121.58 L205.68,124.96 L206.08,128.28 L206.48,131.49 L206.88,134.58 L207.28,137.53 L207.68,140.32 L208.08,142.96 L208.48,145.44 L208.88,147.76 L209.28,149.93 L209.68,151.95 L210.08,153.83 L210.48,155.58 L210.88,157.21 L211.28,158.71 L211.68,160.11 L212.08,161.40 L212.48,162.60 L212.88,163.71 L213.28,164.73 L213.68,165.68 L214.08,166.56 L214.48,167.37 L214.88,168.11 L215.28,168.81 L215.68,169.44 L216.08,170.03 L216.48,170.58 L216.88,171.08 L217.28,171.54 L217.68,171.97 L218.09,172.36 L218.49,172.72 L218.89,173.05 L219.29,173.35 L219.69,173.62 L220.09,173.88 L220.49,174.11 L220.89,174.32 L221.29,174.50 L221.69,174.67 L222.09,174.83 L222.49,174.96 L222.89,175.09 L223.29,175.19 L223.69,175.29 L224.09,175.37 L224.49,175.44 L224.89,175.49 L225.29,175.54 L225.69,175.58 L226.09,175.60 L226.49,175.62 L226.89,175.63 L227.29,175.64 L227.69,175.63 L228.09,175.62 L228.49,175.60 L228.89,175.57 L229.29,175.54 L229.69,175.50 L230.09,175.46 L230.49,175.41 L230.89,175.35 L231.29,175.29 L231.69,175.23 L232.09,175.16 L232.49,175.09 L232.89,175.02 L233.29,174.94 L233.69,174.85 L234.09,174.77 L234.49,174.68 L234.90,174.58 L235.30,174.49 L235.70,174.39 L236.10,174.29 L236.50,174.18 L236.90,174.07 L237.30,173.97 L237.70,173.85 L238.10,173.74 L238.50,173.62 L238.90,173.51 L239.30,173.39 L239.70,173.26 L240.10,173.14 L240.50,173.01 L240.90,172.89 L241.30,172.76 L241.70,172.63 L242.10,172.50 L242.50,172.36 L242.90,172.23 L243.30,172.09 L243.30,174.68 L74.00,252.72Z" fill="url(#ga_gb)" stroke="none" />
<path d="M74.00,252.39 L74.40,252.20 L74.80,252.01 L75.20,251.83 L75.60,251.64 L76.00,251.45 L76.40,251.27 L76.80,251.08 L77.20,250.89 L77.60,250.71 L78.00,250.52 L78.40,250.33 L78.80,250.15 L79.20,249.96 L79.60,249.77 L80.00,249.58 L80.40,249.40 L80.80,249.21 L81.20,249.02 L81.60,248.84 L82.00,248.65 L82.40,248.46 L82.81,248.28 L83.21,248.09 L83.61,247.90 L84.01,247.71 L84.41,247.53 L84.81,247.34 L85.21,247.15 L85.61,246.96 L86.01,246.78 L86.41,246.59 L86.81,246.40 L87.21,246.22 L87.61,246.03 L88.01,245.84 L88.41,245.65 L88.81,245.47 L89.21,245.28 L89.61,245.09 L90.01,244.90 L90.41,244.71 L90.81,244.53 L91.21,244.34 L91.61,244.15 L92.01,243.96 L92.41,243.78 L92.81,243.59 L93.21,243.40 L93.61,243.21 L94.01,243.02 L94.41,242.84 L94.81,242.65 L95.21,242.46 L95.61,242.27 L96.01,242.08 L96.41,241.89 L96.81,241.71 L97.21,241.52 L97.61,241.33 L98.01,241.14 L98.41,240.95 L98.81,240.76 L99.21,240.58 L99.62,240.39 L100.02,240.20 L100.42,240.01 L100.82,239.82 L101.22,239.63 L101.62,239.44 L102.02,239.25 L102.42,239.07 L102.82,238.88 L103.22,238.69 L103.62,238.50 L104.02,238.31 L104.42,238.12 L104.82,237.93 L105.22,237.74 L105.62,237.55 L106.02,237.36 L106.42,237.17 L106.82,236.98 L107.22,236.79 L107.62,236.60 L108.02,236.41 L108.42,236.22 L108.82,236.03 L109.22,235.84 L109.62,235.65 L110.02,235.46 L110.42,235.27 L110.82,235.08 L111.22,234.89 L111.62,234.70 L112.02,234.51 L112.42,234.32 L112.82,234.13 L113.22,233.94 L113.62,233.75 L114.02,233.56 L114.42,233.37 L114.82,233.17 L115.22,232.98 L115.62,232.79 L116.02,232.60 L116.43,232.41 L116.83,232.22 L117.23,232.03 L117.63,231.83 L118.03,231.64 L118.43,231.45 L118.83,231.26 L119.23,231.06 L119.63,230.87 L120.03,230.68 L120.43,230.49 L120.83,230.29 L121.23,230.10 L121.63,229.91 L122.03,229.72 L122.43,229.52 L122.83,229.33 L123.23,229.13 L123.63,228.94 L124.03,228.75 L124.43,228.55 L124.83,228.36 L125.23,228.17 L125.63,227.97 L126.03,227.78 L126.43,227.58 L126.83,227.39 L127.23,227.19 L127.63,227.00 L128.03,226.80 L128.43,226.61 L128.83,226.41 L129.23,226.21 L129.63,226.02 L130.03,225.82 L130.43,225.62 L130.83,225.43 L131.23,225.23 L131.63,225.03 L132.03,224.84 L132.43,224.64 L132.83,224.44 L133.23,224.24 L133.64,224.04 L134.04,223.85 L134.44,223.65 L134.84,223.45 L135.24,223.25 L135.64,223.05 L136.04,222.85 L136.44,222.65 L136.84,222.45 L137.24,222.25 L137.64,222.05 L138.04,221.84 L138.44,221.64 L138.84,221.44 L139.24,221.24 L139.64,221.04 L140.04,220.83 L140.44,220.63 L140.84,220.43 L141.24,220.22 L141.64,220.02 L142.04,219.81 L142.44,219.61 L142.84,219.40 L143.24,219.19 L143.64,218.99 L144.04,218.78 L144.44,218.57 L144.84,218.37 L145.24,218.16 L145.64,217.95 L146.04,217.74 L146.44,217.53 L146.84,217.32 L147.24,217.11 L147.64,216.89 L148.04,216.68 L148.44,216.47 L148.84,216.26 L149.24,216.04 L149.64,215.83 L150.04,215.61 L150.45,215.39 L150.85,215.18 L151.25,214.96 L151.65,214.74 L152.05,214.52 L152.45,214.30 L152.85,214.08 L153.25,213.86 L153.65,213.63 L154.05,213.41 L154.45,213.18 L154.85,212.96 L155.25,212.73 L155.65,212.50 L156.05,212.27 L156.45,212.04 L156.85,211.81 L157.25,211.58 L157.65,211.34 L158.05,211.11 L158.45,210.87 L158.85,210.63 L159.25,210.39 L159.65,210.15 L160.05,209.91 L160.45,209.66 L160.85,209.41 L161.25,209.17 L161.65,208.92 L162.05,208.66 L162.45,208.41 L162.85,208.15 L163.25,207.89 L163.65,207.63 L164.05,207.37 L164.45,207.10 L164.85,206.84 L165.25,206.57 L165.65,206.29 L166.05,206.02 L166.45,205.74 L166.85,205.45 L167.26,205.17 L167.66,204.88 L168.06,204.58 L168.46,204.29 L168.86,203.99 L169.26,203.68 L169.66,203.37 L170.06,203.06 L170.46,202.74 L170.86,202.42 L171.26,202.09 L171.66,201.75 L172.06,201.41 L172.46,201.07 L172.86,200.72 L173.26,200.36 L173.66,199.99 L174.06,199.62 L174.46,199.24 L174.86,198.85 L175.26,198.45 L175.66,198.05 L176.06,197.63 L176.46,197.20 L176.86,196.77 L177.26,196.32 L177.66,195.86 L178.06,195.38 L178.46,194.90 L178.86,194.40 L179.26,193.88 L179.66,193.35 L180.06,192.80 L180.46,192.23 L180.86,191.64 L181.26,191.04 L181.66,190.41 L182.06,189.75 L182.46,189.08 L182.86,188.37 L183.26,187.64 L183.66,186.87 L184.07,186.08 L184.47,185.25 L184.87,184.38 L185.27,183.47 L185.67,182.52 L186.07,181.52 L186.47,180.48 L186.87,179.38 L187.27,178.22 L187.67,177.01 L188.07,175.73 L188.47,174.37 L188.87,172.95 L189.27,171.44 L189.67,169.85 L190.07,168.17 L190.47,166.39 L190.87,164.51 L191.27,162.51 L191.67,160.40 L192.07,158.17 L192.47,155.82 L192.87,153.33 L193.27,150.70 L193.67,147.94 L194.07,145.04 L194.47,142.00 L194.87,138.84 L195.27,135.56 L195.67,132.17 L196.07,128.70 L196.47,125.17 L196.87,121.63 L197.27,118.11 L197.67,114.66 L198.07,111.34 L198.47,108.23 L198.87,105.37 L199.27,102.85 L199.67,100.73 L200.07,99.06 L200.47,97.89 L200.87,97.26 L201.28,97.20 L201.68,97.76 L202.08,98.92 L202.48,100.62 L202.88,102.81 L203.28,105.40 L203.68,108.32 L204.08,111.46 L204.48,114.77 L204.88,118.16 L205.28,121.58 L205.68,124.96 L206.08,128.28 L206.48,131.49 L206.88,134.58 L207.28,137.53 L207.68,140.32 L208.08,142.96 L208.48,145.44 L208.88,147.76 L209.28,149.93 L209.68,151.95 L210.08,153.83 L210.48,155.58 L210.88,157.21 L211.28,158.71 L211.68,160.11 L212.08,161.40 L212.48,162.60 L212.88,163.71 L213.28,164.73 L213.68,165.68 L214.08,166.56 L214.48,167.37 L214.88,168.11 L215.28,168.81 L215.68,169.44 L216.08,170.03 L216.48,170.58 L216.88,171.08 L217.28,171.54 L217.68,171.97 L218.09,172.36 L218.49,172.72 L218.89,173.05 L219.29,173.35 L219.69,173.62 L220.09,173.88 L220.49,174.11 L220.89,174.32 L221.29,174.50 L221.69,174.67 L222.09,174.83 L222.49,174.96 L222.89,175.09 L223.29,175.19 L223.69,175.29 L224.09,175.37 L224.49,175.44 L224.89,175.49 L225.29,175.54 L225.69,175.58 L226.09,175.60 L226.49,175.62 L226.89,175.63 L227.29,175.64 L227.69,175.63 L228.09,175.62 L228.49,175.60 L228.89,175.57 L229.29,175.54 L229.69,175.50 L230.09,175.46 L230.49,175.41 L230.89,175.35 L231.29,175.29 L231.69,175.23 L232.09,175.16 L232.49,175.09 L232.89,175.02 L233.29,174.94 L233.69,174.85 L234.09,174.77 L234.49,174.68 L234.90,174.58 L235.30,174.49 L235.70,174.39 L236.10,174.29 L236.50,174.18 L236.90,174.07 L237.30,173.97 L237.70,173.85 L238.10,173.74 L238.50,173.62 L238.90,173.51 L239.30,173.39 L239.70,173.26 L240.10,173.14 L240.50,173.01 L240.90,172.89 L241.30,172.76 L241.70,172.63 L242.10,172.50 L242.50,172.36 L242.90,172.23 L243.30,172.09" stroke="#3a9a3a" stroke-width="0.8" fill="none" stroke-linejoin="round" />
<path d="M76.80,251.28 L77.20,251.10 L77.60,250.91 L78.00,250.73 L78.40,250.54 L78.80,250.35 L79.20,250.17 L79.60,249.98 L80.00,249.80 L80.40,249.61 L80.80,249.43 L81.20,249.24 L81.60,249.06 L82.00,248.87 L82.40,248.69 L82.81,248.50 L83.21,248.31 L83.61,248.13 L84.01,247.94 L84.41,247.76 L84.81,247.57 L85.21,247.39 L85.61,247.20 L86.01,247.02 L86.41,246.83 L86.81,246.64 L87.21,246.46 L87.61,246.27 L88.01,246.09 L88.41,245.90 L88.81,245.72 L89.21,245.53 L89.61,245.34 L90.01,245.16 L90.41,244.97 L90.81,244.79 L91.21,244.60 L91.61,244.42 L92.01,244.23 L92.41,244.04 L92.81,243.86 L93.21,243.67 L93.61,243.49 L94.01,243.30 L94.41,243.11 L94.81,242.93 L95.21,242.74 L95.61,242.56 L96.01,242.37 L96.41,242.19 L96.81,242.00 L97.21,241.81 L97.61,241.63 L98.01,241.44 L98.41,241.26 L98.81,241.07 L99.21,240.88 L99.62,240.70 L100.02,240.51 L100.42,240.33 L100.82,240.14 L101.22,239.95 L101.62,239.77 L102.02,239.58 L102.42,239.39 L102.82,239.21 L103.22,239.02 L103.62,238.84 L104.02,238.65 L104.42,238.46 L104.82,238.28 L105.22,238.09 L105.62,237.90 L106.02,237.72 L106.42,237.53 L106.82,237.35 L107.22,237.16 L107.62,236.97 L108.02,236.79 L108.42,236.60 L108.82,236.41 L109.22,236.23 L109.62,236.04 L110.02,235.85 L110.42,235.67 L110.82,235.48 L111.22,235.29 L111.62,235.11 L112.02,234.92 L112.42,234.73 L112.82,234.55 L113.22,234.36 L113.62,234.17 L114.02,233.99 L114.42,233.80 L114.82,233.61 L115.22,233.43 L115.62,233.24 L116.02,233.05 L116.43,232.87 L116.83,232.68 L117.23,232.49 L117.63,232.30 L118.03,232.12 L118.43,231.93 L118.83,231.74 L119.23,231.56 L119.63,231.37 L120.03,231.18 L120.43,230.99 L120.83,230.81 L121.23,230.62 L121.63,230.43 L122.03,230.24 L122.43,230.06 L122.83,229.87 L123.23,229.68 L123.63,229.49 L124.03,229.31 L124.43,229.12 L124.83,228.93 L125.23,228.74 L125.63,228.56 L126.03,228.37 L126.43,228.18 L126.83,227.99 L127.23,227.80 L127.63,227.62 L128.03,227.43 L128.43,227.24 L128.83,227.05 L129.23,226.86 L129.63,226.67 L130.03,226.49 L130.43,226.30 L130.83,226.11 L131.23,225.92 L131.63,225.73 L132.03,225.54 L132.43,225.35 L132.83,225.17 L133.23,224.98 L133.64,224.79 L134.04,224.60 L134.44,224.41 L134.84,224.22 L135.24,224.03 L135.64,223.84 L136.04,223.65 L136.44,223.46 L136.84,223.27 L137.24,223.08 L137.64,222.89 L138.04,222.70 L138.44,222.51 L138.84,222.32 L139.24,222.13 L139.64,221.94 L140.04,221.75 L140.44,221.56 L140.84,221.37 L141.24,221.18 L141.64,220.99 L142.04,220.80 L142.44,220.61 L142.84,220.42 L143.24,220.23 L143.64,220.04 L144.04,219.85 L144.44,219.65 L144.84,219.46 L145.24,219.27 L145.64,219.08 L146.04,218.89 L146.44,218.69 L146.84,218.50 L147.24,218.31 L147.64,218.12 L148.04,217.93 L148.44,217.73 L148.84,217.54 L149.24,217.35 L149.64,217.15 L150.04,216.96 L150.45,216.77 L150.85,216.57 L151.25,216.38 L151.65,216.18 L152.05,215.99 L152.45,215.80 L152.85,215.60 L153.25,215.41 L153.65,215.21 L154.05,215.01 L154.45,214.82 L154.85,214.62 L155.25,214.43 L155.65,214.23 L156.05,214.03 L156.45,213.84 L156.85,213.64 L157.25,213.44 L157.65,213.25 L158.05,213.05 L158.45,212.85 L158.85,212.65 L159.25,212.45 L159.65,212.25 L160.05,212.05 L160.45,211.85 L160.85,211.65 L161.25,211.45 L161.65,211.25 L162.05,211.05 L162.45,210.85 L162.85,210.65 L163.25,210.44 L163.65,210.24 L164.05,210.04 L164.45,209.83 L164.85,209.63 L165.25,209.42 L165.65,209.22 L166.05,209.01 L166.45,208.81 L166.85,208.60 L167.26,208.39 L167.66,208.18 L168.06,207.97 L168.46,207.76 L168.86,207.55 L169.26,207.34 L169.66,207.13 L170.06,206.92 L170.46,206.71 L170.86,206.49 L171.26,206.28 L171.66,206.06 L172.06,205.84 L172.46,205.63 L172.86,205.41 L173.26,205.19 L173.66,204.97 L174.06,204.74 L174.46,204.52 L174.86,204.30 L175.26,204.07 L175.66,203.84 L176.06,203.62 L176.46,203.39 L176.86,203.16 L177.26,202.92 L177.66,202.69 L178.06,202.45 L178.46,202.21 L178.86,201.97 L179.26,201.73 L179.66,201.49 L180.06,201.24 L180.46,200.99 L180.86,200.74 L181.26,200.49 L181.66,200.23 L182.06,199.98 L182.46,199.71 L182.86,199.45 L183.26,199.18 L183.66,198.91 L184.07,198.64 L184.47,198.36 L184.87,198.08 L185.27,197.79 L185.67,197.50 L186.07,197.20 L186.47,196.90 L186.87,196.60 L187.27,196.28 L187.67,195.97 L188.07,195.64 L188.47,195.31 L188.87,194.98 L189.27,194.63 L189.67,194.28 L190.07,193.91 L190.47,193.54 L190.87,193.16 L191.27,192.77 L191.67,192.37 L192.07,191.95 L192.47,191.52 L192.87,191.08 L193.27,190.62 L193.67,190.15 L194.07,189.66 L194.47,189.15 L194.87,188.62 L195.27,188.06 L195.67,187.48 L196.07,186.88 L196.47,186.24 L196.87,185.58 L197.27,184.88 L197.67,184.14 L198.07,183.36 L198.47,182.54 L198.87,181.66 L199.27,180.74 L199.67,179.75 L200.07,178.69 L200.47,177.56 L200.87,176.34 L201.28,175.03 L201.68,173.63 L202.08,172.10 L202.48,170.45 L202.88,168.65 L203.28,166.69 L203.68,164.55 L204.08,162.21 L204.48,159.64 L204.88,156.80 L205.28,153.68 L205.68,150.23 L206.08,146.42 L206.48,142.20 L206.88,137.53 L207.28,132.38 L207.68,126.69 L208.08,120.45 L208.48,113.65 L208.88,106.30 L209.28,98.47 L209.68,90.29 L210.08,81.94 L210.48,73.71 L210.88,65.99 L211.28,59.21 L211.68,53.84 L212.08,50.29 L212.48,48.89 L212.88,49.72 L213.28,52.71 L213.68,57.56 L214.08,63.87 L214.48,71.15 L214.88,78.98 L215.28,86.96 L215.68,94.81 L216.08,102.30 L216.48,109.33 L216.88,115.81 L217.28,121.74 L217.68,127.10 L218.09,131.94 L218.49,136.28 L218.89,140.17 L219.29,143.65 L219.69,146.76 L220.09,149.54 L220.49,152.03 L220.89,154.25 L221.29,156.25 L221.69,158.04 L222.09,159.64 L222.49,161.08 L222.89,162.38 L223.29,163.54 L223.69,164.60 L224.09,165.54 L224.49,166.40 L224.89,167.17 L225.29,167.86 L225.69,168.49 L226.09,169.05 L226.49,169.56 L226.89,170.02 L227.29,170.44 L227.69,170.81 L228.09,171.14 L228.49,171.44 L228.89,171.71 L229.29,171.95 L229.69,172.16 L230.09,172.35 L230.49,172.51 L230.89,172.65 L231.29,172.78 L231.69,172.88 L232.09,172.98 L232.49,173.05 L232.89,173.11 L233.29,173.16 L233.69,173.19 L234.09,173.22 L234.49,173.23 L234.90,173.23 L235.30,173.23 L235.70,173.21 L236.10,173.19 L236.50,173.16 L236.90,173.12 L237.30,173.08 L237.70,173.02 L238.10,172.97 L238.50,172.90 L238.90,172.84 L239.30,172.76 L239.70,172.69 L240.10,172.60 L240.50,172.52 L240.90,172.43 L241.30,172.33 L241.70,172.24 L242.10,172.14 L242.50,172.03 L242.90,171.92 L243.30,171.81 L243.30,174.68 L76.80,251.43Z" fill="url(#ga_pb)" stroke="none" />
<path d="M76.80,251.28 L77.20,251.10 L77.60,250.91 L78.00,250.73 L78.40,250.54 L78.80,250.35 L79.20,250.17 L79.60,249.98 L80.00,249.80 L80.40,249.61 L80.80,249.43 L81.20,249.24 L81.60,249.06 L82.00,248.87 L82.40,248.69 L82.81,248.50 L83.21,248.31 L83.61,248.13 L84.01,247.94 L84.41,247.76 L84.81,247.57 L85.21,247.39 L85.61,247.20 L86.01,247.02 L86.41,246.83 L86.81,246.64 L87.21,246.46 L87.61,246.27 L88.01,246.09 L88.41,245.90 L88.81,245.72 L89.21,245.53 L89.61,245.34 L90.01,245.16 L90.41,244.97 L90.81,244.79 L91.21,244.60 L91.61,244.42 L92.01,244.23 L92.41,244.04 L92.81,243.86 L93.21,243.67 L93.61,243.49 L94.01,243.30 L94.41,243.11 L94.81,242.93 L95.21,242.74 L95.61,242.56 L96.01,242.37 L96.41,242.19 L96.81,242.00 L97.21,241.81 L97.61,241.63 L98.01,241.44 L98.41,241.26 L98.81,241.07 L99.21,240.88 L99.62,240.70 L100.02,240.51 L100.42,240.33 L100.82,240.14 L101.22,239.95 L101.62,239.77 L102.02,239.58 L102.42,239.39 L102.82,239.21 L103.22,239.02 L103.62,238.84 L104.02,238.65 L104.42,238.46 L104.82,238.28 L105.22,238.09 L105.62,237.90 L106.02,237.72 L106.42,237.53 L106.82,237.35 L107.22,237.16 L107.62,236.97 L108.02,236.79 L108.42,236.60 L108.82,236.41 L109.22,236.23 L109.62,236.04 L110.02,235.85 L110.42,235.67 L110.82,235.48 L111.22,235.29 L111.62,235.11 L112.02,234.92 L112.42,234.73 L112.82,234.55 L113.22,234.36 L113.62,234.17 L114.02,233.99 L114.42,233.80 L114.82,233.61 L115.22,233.43 L115.62,233.24 L116.02,233.05 L116.43,232.87 L116.83,232.68 L117.23,232.49 L117.63,232.30 L118.03,232.12 L118.43,231.93 L118.83,231.74 L119.23,231.56 L119.63,231.37 L120.03,231.18 L120.43,230.99 L120.83,230.81 L121.23,230.62 L121.63,230.43 L122.03,230.24 L122.43,230.06 L122.83,229.87 L123.23,229.68 L123.63,229.49 L124.03,229.31 L124.43,229.12 L124.83,228.93 L125.23,228.74 L125.63,228.56 L126.03,228.37 L126.43,228.18 L126.83,227.99 L127.23,227.80 L127.63,227.62 L128.03,227.43 L128.43,227.24 L128.83,227.05 L129.23,226.86 L129.63,226.67 L130.03,226.49 L130.43,226.30 L130.83,226.11 L131.23,225.92 L131.63,225.73 L132.03,225.54 L132.43,225.35 L132.83,225.17 L133.23,224.98 L133.64,224.79 L134.04,224.60 L134.44,224.41 L134.84,224.22 L135.24,224.03 L135.64,223.84 L136.04,223.65 L136.44,223.46 L136.84,223.27 L137.24,223.08 L137.64,222.89 L138.04,222.70 L138.44,222.51 L138.84,222.32 L139.24,222.13 L139.64,221.94 L140.04,221.75 L140.44,221.56 L140.84,221.37 L141.24,221.18 L141.64,220.99 L142.04,220.80 L142.44,220.61 L142.84,220.42 L143.24,220.23 L143.64,220.04 L144.04,219.85 L144.44,219.65 L144.84,219.46 L145.24,219.27 L145.64,219.08 L146.04,218.89 L146.44,218.69 L146.84,218.50 L147.24,218.31 L147.64,218.12 L148.04,217.93 L148.44,217.73 L148.84,217.54 L149.24,217.35 L149.64,217.15 L150.04,216.96 L150.45,216.77 L150.85,216.57 L151.25,216.38 L151.65,216.18 L152.05,215.99 L152.45,215.80 L152.85,215.60 L153.25,215.41 L153.65,215.21 L154.05,215.01 L154.45,214.82 L154.85,214.62 L155.25,214.43 L155.65,214.23 L156.05,214.03 L156.45,213.84 L156.85,213.64 L157.25,213.44 L157.65,213.25 L158.05,213.05 L158.45,212.85 L158.85,212.65 L159.25,212.45 L159.65,212.25 L160.05,212.05 L160.45,211.85 L160.85,211.65 L161.25,211.45 L161.65,211.25 L162.05,211.05 L162.45,210.85 L162.85,210.65 L163.25,210.44 L163.65,210.24 L164.05,210.04 L164.45,209.83 L164.85,209.63 L165.25,209.42 L165.65,209.22 L166.05,209.01 L166.45,208.81 L166.85,208.60 L167.26,208.39 L167.66,208.18 L168.06,207.97 L168.46,207.76 L168.86,207.55 L169.26,207.34 L169.66,207.13 L170.06,206.92 L170.46,206.71 L170.86,206.49 L171.26,206.28 L171.66,206.06 L172.06,205.84 L172.46,205.63 L172.86,205.41 L173.26,205.19 L173.66,204.97 L174.06,204.74 L174.46,204.52 L174.86,204.30 L175.26,204.07 L175.66,203.84 L176.06,203.62 L176.46,203.39 L176.86,203.16 L177.26,202.92 L177.66,202.69 L178.06,202.45 L178.46,202.21 L178.86,201.97 L179.26,201.73 L179.66,201.49 L180.06,201.24 L180.46,200.99 L180.86,200.74 L181.26,200.49 L181.66,200.23 L182.06,199.98 L182.46,199.71 L182.86,199.45 L183.26,199.18 L183.66,198.91 L184.07,198.64 L184.47,198.36 L184.87,198.08 L185.27,197.79 L185.67,197.50 L186.07,197.20 L186.47,196.90 L186.87,196.60 L187.27,196.28 L187.67,195.97 L188.07,195.64 L188.47,195.31 L188.87,194.98 L189.27,194.63 L189.67,194.28 L190.07,193.91 L190.47,193.54 L190.87,193.16 L191.27,192.77 L191.67,192.37 L192.07,191.95 L192.47,191.52 L192.87,191.08 L193.27,190.62 L193.67,190.15 L194.07,189.66 L194.47,189.15 L194.87,188.62 L195.27,188.06 L195.67,187.48 L196.07,186.88 L196.47,186.24 L196.87,185.58 L197.27,184.88 L197.67,184.14 L198.07,183.36 L198.47,182.54 L198.87,181.66 L199.27,180.74 L199.67,179.75 L200.07,178.69 L200.47,177.56 L200.87,176.34 L201.28,175.03 L201.68,173.63 L202.08,172.10 L202.48,170.45 L202.88,168.65 L203.28,166.69 L203.68,164.55 L204.08,162.21 L204.48,159.64 L204.88,156.80 L205.28,153.68 L205.68,150.23 L206.08,146.42 L206.48,142.20 L206.88,137.53 L207.28,132.38 L207.68,126.69 L208.08,120.45 L208.48,113.65 L208.88,106.30 L209.28,98.47 L209.68,90.29 L210.08,81.94 L210.48,73.71 L210.88,65.99 L211.28,59.21 L211.68,53.84 L212.08,50.29 L212.48,48.89 L212.88,49.72 L213.28,52.71 L213.68,57.56 L214.08,63.87 L214.48,71.15 L214.88,78.98 L215.28,86.96 L215.68,94.81 L216.08,102.30 L216.48,109.33 L216.88,115.81 L217.28,121.74 L217.68,127.10 L218.09,131.94 L218.49,136.28 L218.89,140.17 L219.29,143.65 L219.69,146.76 L220.09,149.54 L220.49,152.03 L220.89,154.25 L221.29,156.25 L221.69,158.04 L222.09,159.64 L222.49,161.08 L222.89,162.38 L223.29,163.54 L223.69,164.60 L224.09,165.54 L224.49,166.40 L224.89,167.17 L225.29,167.86 L225.69,168.49 L226.09,169.05 L226.49,169.56 L226.89,170.02 L227.29,170.44 L227.69,170.81 L228.09,171.14 L228.49,171.44 L228.89,171.71 L229.29,171.95 L229.69,172.16 L230.09,172.35 L230.49,172.51 L230.89,172.65 L231.29,172.78 L231.69,172.88 L232.09,172.98 L232.49,173.05 L232.89,173.11 L233.29,173.16 L233.69,173.19 L234.09,173.22 L234.49,173.23 L234.90,173.23 L235.30,173.23 L235.70,173.21 L236.10,173.19 L236.50,173.16 L236.90,173.12 L237.30,173.08 L237.70,173.02 L238.10,172.97 L238.50,172.90 L238.90,172.84 L239.30,172.76 L239.70,172.69 L240.10,172.60 L240.50,172.52 L240.90,172.43 L241.30,172.33 L241.70,172.24 L242.10,172.14 L242.50,172.03 L242.90,171.92 L243.30,171.81" stroke="#9a40e8" stroke-width="0.8" fill="none" stroke-linejoin="round" />
<line x1="74.0" y1="251.0" x2="243.3" y2="175.6" stroke="#3a9a3a" stroke-width="0.8" />
<line x1="74.0" y1="253.0" x2="243.3" y2="174.4" stroke="#6a2ad8" stroke-width="1.3" />
<path d="M73.90,259.60 L74.80,251.90 L76.50,232.80 L77.70,248.10 L79.00,250.60 L80.30,241.70 L81.90,234.00 L83.20,246.80 L84.70,239.20 L86.30,225.80 L87.50,232.80 L88.30,251.90 L89.60,263.40 L90.50,241.70 L91.70,239.20 L93.00,241.70 L94.90,217.50 L96.20,239.20 L98.10,246.20 L100.00,234.10 L101.90,216.20 L103.20,243.00 L104.50,231.50 L106.40,226.40 L108.30,212.40 L109.60,221.30 L110.90,212.40 L112.10,221.30 L114.00,212.40 L116.00,206.00 L117.20,201.00 L119.10,198.40 L120.40,186.90 L122.30,180.60 L124.20,165.30 L126.10,158.90 L128.00,155.10 L129.30,164.00 L130.60,153.80 L131.50,150.00 L132.50,141.00 L133.50,128.00 L134.60,127.30 L135.50,140.00 L136.50,132.00 L137.50,118.00 L138.50,108.00 L139.50,104.00 L140.50,101.50 L141.50,104.00 L142.50,108.00 L143.50,118.00 L144.50,130.00 L145.50,143.00 L146.30,150.00 L147.00,153.50 L148.00,175.00 L149.00,184.90 L150.00,190.00 L151.50,196.00 L153.00,200.00 L154.30,196.00 L155.30,183.90 L156.60,202.30 L158.60,207.60 L159.90,197.00 L161.20,205.00 L163.20,187.80 L164.50,201.00 L165.80,207.60 L168.50,177.30 L169.80,195.80 L171.80,191.80 L173.70,194.40 L176.40,195.80 L178.40,183.90 L179.70,185.20 L181.70,166.70 L183.00,178.60 L184.30,183.90 L186.30,165.40 L188.30,156.20 L189.20,136.40 L190.20,149.60 L192.20,136.40 L193.50,125.00 L194.90,112.60 L196.00,100.00 L197.50,90.00 L199.70,79.00 L201.70,73.40 L202.70,80.30 L204.70,73.40 L206.60,67.40 L207.60,62.50 L208.60,50.00 L209.60,35.70 L210.60,28.00 L211.60,23.90 L212.60,29.80 L213.60,26.00 L214.60,32.80 L215.50,49.60 L216.50,66.00 L217.50,86.00 L218.50,108.00 L219.50,130.00 L220.90,144.50 L222.30,160.90 L223.60,168.20 L225.00,165.00 L226.40,173.60 L228.20,168.20 L229.10,159.10 L230.00,177.30 L231.40,184.50 L232.70,171.80 L234.50,180.90 L235.90,172.70 L237.30,183.60 L238.60,180.90 L240.00,188.20 L241.40,163.60 L242.30,172.70 L243.20,169.10" stroke="#383838" stroke-width="1.05" fill="none" stroke-linejoin="round" />
<path d="M73.80,252.50 L74.61,252.06 L75.75,251.45 L77.09,250.71 L78.55,249.88 L80.00,249.00 L81.48,248.04 L83.07,246.97 L84.71,245.83 L86.37,244.66 L88.00,243.50 L89.62,242.34 L91.25,241.16 L92.87,239.96 L94.46,238.74 L96.00,237.50 L97.48,236.34 L98.92,235.25 L100.32,234.09 L101.68,232.72 L103.00,231.00 L104.26,228.84 L105.47,226.34 L106.65,223.62 L107.82,220.80 L109.00,218.00 L110.22,215.21 L111.45,212.36 L112.67,209.44 L113.86,206.49 L115.00,203.50 L116.07,200.54 L117.10,197.59 L118.09,194.57 L119.05,191.40 L120.00,188.00 L120.96,184.10 L121.91,179.77 L122.83,175.39 L123.68,171.34 L124.40,168.00 L124.95,165.47 L125.36,163.48 L125.71,161.92 L126.06,160.63 L126.50,159.50 L127.05,158.62 L127.66,158.08 L128.29,157.73 L128.92,157.42 L129.50,157.00 L130.02,156.54 L130.50,156.12 L130.97,155.67 L131.46,155.09 L132.00,154.30 L132.63,153.44 L133.32,152.57 L134.02,151.47 L134.70,149.92 L135.30,147.70 L135.82,144.60 L136.29,140.77 L136.72,136.52 L137.12,132.16 L137.50,128.00 L137.86,123.82 L138.18,119.42 L138.48,115.12 L138.78,111.27 L139.10,108.20 L139.43,105.94 L139.77,104.28 L140.11,103.16 L140.45,102.52 L140.80,102.30 L141.15,102.40 L141.49,102.87 L141.85,103.85 L142.21,105.50 L142.60,108.00 L143.01,111.44 L143.43,115.71 L143.87,120.66 L144.33,126.14 L144.80,132.00 L145.29,138.67 L145.81,146.26 L146.34,154.10 L146.87,161.57 L147.40,168.00 L147.92,173.33 L148.44,177.98 L148.96,182.08 L149.48,185.71 L150.00,189.00 L150.48,191.88 L150.91,194.29 L151.37,196.31 L151.91,198.02 L152.60,199.50 L153.49,200.72 L154.53,201.61 L155.65,202.24 L156.80,202.68 L157.90,203.00 L158.94,203.16 L159.96,203.11 L160.99,202.92 L162.06,202.63 L163.20,202.30 L164.44,201.92 L165.75,201.46 L167.10,200.92 L168.46,200.33 L169.80,199.70 L171.12,199.09 L172.44,198.49 L173.76,197.81 L175.08,196.95 L176.40,195.80 L177.76,194.37 L179.16,192.72 L180.55,190.85 L181.85,188.78 L183.00,186.50 L183.98,183.96 L184.83,181.15 L185.58,178.16 L186.29,175.08 L187.00,172.00 L187.70,168.90 L188.38,165.71 L189.02,162.47 L189.62,159.22 L190.20,156.00 L190.73,152.90 L191.23,149.89 L191.69,146.83 L192.15,143.58 L192.60,140.00 L193.05,136.03 L193.48,131.78 L193.91,127.30 L194.34,122.69 L194.80,118.00 L195.29,112.97 L195.79,107.54 L196.31,102.14 L196.81,97.15 L197.30,93.00 L197.75,89.82 L198.19,87.35 L198.61,85.37 L199.05,83.66 L199.50,82.00 L199.97,80.48 L200.45,79.24 L200.95,78.16 L201.46,77.12 L202.00,76.00 L202.57,74.86 L203.18,73.79 L203.80,72.69 L204.42,71.46 L205.00,70.00 L205.56,68.54 L206.10,67.15 L206.62,65.49 L207.12,63.22 L207.60,60.00 L208.03,55.33 L208.41,49.44 L208.79,43.08 L209.17,37.02 L209.60,32.00 L210.08,27.82 L210.61,23.97 L211.15,20.78 L211.68,18.55 L212.20,17.60 L212.70,17.94 L213.20,19.35 L213.69,21.84 L214.16,25.39 L214.60,30.00 L215.01,36.13 L215.39,43.78 L215.76,52.27 L216.12,60.90 L216.50,69.00 L216.89,76.64 L217.29,84.28 L217.70,91.80 L218.10,99.08 L218.50,106.00 L218.88,112.59 L219.25,118.94 L219.63,124.98 L220.04,130.69 L220.50,136.00 L221.02,140.94 L221.58,145.55 L222.19,149.79 L222.83,153.62 L223.50,157.00 L224.19,159.88 L224.89,162.28 L225.65,164.29 L226.47,166.00 L227.40,167.50 L228.40,168.73 L229.46,169.64 L230.62,170.30 L231.92,170.79 L233.40,171.20 L235.29,171.47 L237.55,171.54 L239.87,171.50 L241.89,171.43 L243.30,171.40" stroke="#e04040" stroke-width="0.9" fill="none" stroke-linejoin="round" />
<rect x="73.4" y="12.3" width="170.5" height="252.0" fill="none" stroke="#000" stroke-width="1.3"/>
<line x1="77.9" y1="264.3" x2="77.9" y2="267.9" stroke="#000" stroke-width="1.2" />
<line x1="125.2" y1="264.3" x2="125.2" y2="267.9" stroke="#000" stroke-width="1.2" />
<line x1="172.6" y1="264.3" x2="172.6" y2="267.9" stroke="#000" stroke-width="1.2" />
<line x1="219.9" y1="264.3" x2="219.9" y2="267.9" stroke="#000" stroke-width="1.2" />
<line x1="101.5" y1="264.3" x2="101.5" y2="268.6" stroke="#000" stroke-width="1.2" />
<text x="91.53" y="280.20" font-size="10.6" font-weight="bold" fill="#000" stroke="#000" stroke-width="0.25" textLength="20.27" lengthAdjust="spacingAndGlyphs">455</text>
<line x1="148.9" y1="264.3" x2="148.9" y2="268.6" stroke="#000" stroke-width="1.2" />
<text x="138.88" y="280.20" font-size="10.6" font-weight="bold" fill="#000" stroke="#000" stroke-width="0.25" textLength="20.39" lengthAdjust="spacingAndGlyphs">450</text>
<line x1="196.2" y1="264.3" x2="196.2" y2="268.6" stroke="#000" stroke-width="1.2" />
<text x="186.23" y="280.20" font-size="10.6" font-weight="bold" fill="#000" stroke="#000" stroke-width="0.25" textLength="20.27" lengthAdjust="spacingAndGlyphs">445</text>
<line x1="243.6" y1="264.3" x2="243.6" y2="268.6" stroke="#000" stroke-width="1.2" />
<text x="233.58" y="280.20" font-size="10.6" font-weight="bold" fill="#000" stroke="#000" stroke-width="0.25" textLength="20.39" lengthAdjust="spacingAndGlyphs">440</text>
<text x="108.92" y="299.50" font-size="9.9" font-weight="bold" fill="#000" stroke="#000" stroke-width="0.25" textLength="108.60" lengthAdjust="spacingAndGlyphs">Binding Energy (eV)</text>
<text transform="translate(56.40,160.80) rotate(-90)" x="-0.66" y="0" font-size="10.3" font-weight="bold" fill="#000" stroke="#000" stroke-width="0.25" textLength="71.50" lengthAdjust="spacingAndGlyphs">Intensity (a.u)</text>
<text x="79.22" y="28.30" font-size="9.3" font-weight="bold" fill="#000" stroke="#000" stroke-width="0.25" textLength="22.38" lengthAdjust="spacingAndGlyphs">In 3d</text>
<text x="146.46" y="44.60" font-size="10.2" font-weight="bold" fill="#000" stroke="#000" stroke-width="0.25" textLength="9.46" lengthAdjust="spacingAndGlyphs">In</text>
<text x="155.89" y="47.30" font-size="6.0" font-weight="bold" fill="#000" stroke="#000" stroke-width="0.25" textLength="3.97" lengthAdjust="spacingAndGlyphs">2</text>
<text x="159.67" y="44.60" font-size="10.2" font-weight="bold" fill="#000" stroke="#000" stroke-width="0.25" textLength="10.33" lengthAdjust="spacingAndGlyphs">O</text>
<text x="169.56" y="47.30" font-size="6.0" font-weight="bold" fill="#000" stroke="#000" stroke-width="0.25" textLength="4.00" lengthAdjust="spacingAndGlyphs">3</text>
<text x="174.70" y="44.40" font-size="6.6" font-weight="normal" fill="#000" stroke="#000" stroke-width="0.25" textLength="2.22" lengthAdjust="spacingAndGlyphs">(</text>
<text x="177.15" y="44.60" font-size="9.2" font-weight="bold" fill="#000" stroke="#000" stroke-width="0.25" textLength="6.24" lengthAdjust="spacingAndGlyphs">c</text>
<text x="184.14" y="44.40" font-size="6.6" font-weight="normal" fill="#000" stroke="#000" stroke-width="0.25" textLength="2.05" lengthAdjust="spacingAndGlyphs">)</text>
<text x="4.53" y="17.40" font-size="13.7" font-weight="bold" fill="#000" stroke="#000" stroke-width="0.5" textLength="3.81" lengthAdjust="spacingAndGlyphs">(</text>
<text x="8.36" y="17.70" font-size="13.8" font-weight="bold" fill="#000" stroke="#000" stroke-width="0.5" textLength="8.24" lengthAdjust="spacingAndGlyphs">a</text>
<text x="17.40" y="17.40" font-size="13.7" font-weight="bold" fill="#000" stroke="#000" stroke-width="0.5" textLength="4.02" lengthAdjust="spacingAndGlyphs">)</text>
<path d="M326.60,184.82 L327.40,185.12 L328.54,185.43 L329.79,185.89 L330.90,186.04 L331.75,186.71 L332.48,186.41 L333.25,187.35 L334.20,188.04 L335.43,187.56 L336.83,187.35 L338.27,185.98 L339.60,185.77 L340.77,185.06 L341.86,184.86 L342.92,184.34 L344.00,183.11 L345.10,182.53 L346.21,181.70 L347.31,181.37 L348.40,180.17 L349.48,178.36 L350.55,177.67 L351.62,175.70 L352.70,175.02 L353.74,173.54 L354.76,172.53 L355.85,172.63 L357.10,171.31 L358.58,170.78 L360.21,171.13 L361.92,170.70 L363.60,169.89 L365.25,170.43 L366.90,169.98 L368.55,170.17 L370.20,169.80 L371.83,170.74 L373.45,170.77 L375.07,171.37 L376.70,171.59 L378.40,171.26 L380.14,171.59 L381.81,171.66 L383.30,171.95 L384.53,172.12 L385.59,172.58 L386.57,173.24 L387.60,173.30 L388.72,175.00 L389.86,175.94 L390.98,177.42 L392.00,179.62 L392.90,181.13 L393.73,182.99 L394.51,185.42 L395.30,188.20 L396.10,190.57 L396.90,194.89 L397.70,197.40 L398.50,201.35 L399.32,204.38 L400.14,206.34 L400.97,209.77 L401.80,211.87 L402.60,214.48 L403.38,216.20 L404.20,218.35 L405.10,220.38 L406.12,222.81 L407.24,223.48 L408.38,225.31 L409.50,226.63 L410.53,227.62 L411.51,227.84 L412.57,228.59 L413.80,229.52 L415.24,230.58 L416.82,230.71 L418.55,232.14 L420.40,233.00 L422.46,233.89 L424.70,233.92 L426.97,235.66 L429.10,235.59 L431.05,236.57 L432.90,237.52 L434.70,238.49 L436.50,238.54 L438.30,239.71 L440.07,239.87 L441.83,240.19 L443.60,240.82 L445.32,241.44 L447.00,242.20 L448.76,243.44 L450.70,244.10 L452.85,244.55 L455.16,244.88 L457.61,245.11 L460.20,245.30 L461.70,245.44 L462.52,245.50 L465.13,245.54 L472.00,245.60 L486.40,245.70 L506.14,245.82 L525.51,245.93 L538.80,246.00" stroke="#f01010" stroke-width="1.3" fill="none" stroke-linejoin="round" />
<path d="M326.60,101.92 L327.36,103.17 L328.45,104.61 L329.69,105.20 L330.90,106.14 L332.09,107.73 L333.32,108.13 L334.55,108.54 L335.70,108.49 L336.73,108.28 L337.67,107.52 L338.61,106.07 L339.60,104.94 L340.66,103.76 L341.77,103.61 L342.89,101.85 L344.00,100.69 L345.08,98.95 L346.14,95.98 L347.23,93.65 L348.40,90.56 L349.73,86.16 L351.17,81.43 L352.57,76.15 L353.80,72.65 L354.77,70.01 L355.58,69.00 L356.32,67.36 L357.10,66.16 L357.93,64.99 L358.76,63.24 L359.58,61.85 L360.40,60.26 L361.21,59.57 L362.02,59.38 L362.82,58.89 L363.60,58.33 L364.35,57.72 L365.09,56.68 L365.80,56.15 L366.50,56.29 L367.15,56.46 L367.78,56.76 L368.41,57.34 L369.10,57.77 L369.88,57.87 L370.71,58.22 L371.57,58.90 L372.40,59.49 L373.20,60.06 L374.00,61.66 L374.80,62.90 L375.60,63.76 L376.42,64.15 L377.24,64.35 L378.07,64.08 L378.90,64.56 L379.72,64.74 L380.55,65.56 L381.37,66.42 L382.20,66.75 L383.03,66.43 L383.86,66.69 L384.68,66.22 L385.50,66.26 L386.33,66.30 L387.17,67.46 L387.97,68.16 L388.70,69.64 L389.32,70.74 L389.86,72.46 L390.37,74.03 L390.90,76.24 L391.45,78.41 L392.00,81.57 L392.55,84.83 L393.10,88.26 L393.63,91.27 L394.14,95.17 L394.68,99.08 L395.30,103.45 L396.03,108.92 L396.83,114.72 L397.67,120.65 L398.50,127.32 L399.34,134.51 L400.21,143.25 L401.05,151.31 L401.80,157.78 L402.40,163.21 L402.90,167.48 L403.40,171.25 L404.00,174.64 L404.72,179.13 L405.52,182.86 L406.38,186.70 L407.30,190.14 L408.30,193.83 L409.38,197.38 L410.49,200.50 L411.60,203.48 L412.69,205.51 L413.79,207.92 L414.90,210.18 L416.00,212.12 L417.05,213.20 L418.06,214.69 L419.14,215.58 L420.40,216.03 L421.92,217.27 L423.62,217.87 L425.39,218.51 L427.10,219.41 L428.80,220.53 L430.53,221.47 L432.15,222.47 L433.50,223.13 L434.39,223.87 L434.96,223.94 L435.54,224.32 L436.50,224.87 L437.99,225.65 L439.79,227.56 L441.73,228.39 L443.60,230.32 L445.38,231.96 L447.15,233.97 L448.93,235.59 L450.70,237.77 L452.42,238.70 L454.10,239.52 L455.86,240.94 L457.80,241.38 L459.95,242.50 L462.26,243.11 L464.71,243.65 L467.30,244.10 L469.81,244.44 L472.32,244.66 L475.27,244.82 L479.10,245.00 L483.88,245.20 L489.38,245.39 L495.64,245.56 L502.70,245.70 L511.69,245.81 L522.23,245.89 L532.02,245.96 L538.80,246.00" stroke="#000" stroke-width="1.3" fill="none" stroke-linejoin="round" />
<line x1="393.0" y1="88.0" x2="413.4" y2="240.0" stroke="#000" stroke-width="1.2" />
<path d="M413.40,244.50 L410.90,237.50 L415.60,237.00Z" fill="#000" stroke="none" />
<line x1="392.0" y1="179.3" x2="411.2" y2="238.0" stroke="#f01010" stroke-width="1.0" />
<path d="M412.20,242.50 L408.80,236.50 L413.20,235.20Z" fill="#f01010" stroke="none" />
<rect x="326.2" y="30.2" width="213.3" height="216.2" fill="none" stroke="#000" stroke-width="1.3"/>
<line x1="522.3" y1="246.4" x2="522.3" y2="249.5" stroke="#000" stroke-width="1.2" />
<line x1="500.5" y1="246.4" x2="500.5" y2="248.6" stroke="#000" stroke-width="1.2" />
<line x1="478.8" y1="246.4" x2="478.8" y2="249.5" stroke="#000" stroke-width="1.2" />
<line x1="457.0" y1="246.4" x2="457.0" y2="248.6" stroke="#000" stroke-width="1.2" />
<line x1="435.2" y1="246.4" x2="435.2" y2="249.5" stroke="#000" stroke-width="1.2" />
<line x1="413.4" y1="246.4" x2="413.4" y2="248.6" stroke="#000" stroke-width="1.2" />
<line x1="391.6" y1="246.4" x2="391.6" y2="249.5" stroke="#000" stroke-width="1.2" />
<line x1="369.9" y1="246.4" x2="369.9" y2="248.6" stroke="#000" stroke-width="1.2" />
<line x1="348.1" y1="246.4" x2="348.1" y2="249.5" stroke="#000" stroke-width="1.2" />
<text x="345.49" y="260.00" font-size="8.8" font-weight="bold" fill="#000" stroke="#000" stroke-width="0.25" textLength="5.15" lengthAdjust="spacingAndGlyphs">4</text>
<text x="388.83" y="260.00" font-size="8.8" font-weight="bold" fill="#000" stroke="#000" stroke-width="0.25" textLength="5.67" lengthAdjust="spacingAndGlyphs">2</text>
<text x="432.28" y="260.00" font-size="8.8" font-weight="bold" fill="#000" stroke="#000" stroke-width="0.25" textLength="5.79" lengthAdjust="spacingAndGlyphs">0</text>
<text x="472.34" y="260.00" font-size="8.8" font-weight="bold" fill="#000" stroke="#000" stroke-width="0.25" textLength="9.44" lengthAdjust="spacingAndGlyphs">-2</text>
<text x="515.91" y="260.00" font-size="8.8" font-weight="bold" fill="#000" stroke="#000" stroke-width="0.25" textLength="9.10" lengthAdjust="spacingAndGlyphs">-4</text>
<text x="380.81" y="277.70" font-size="10.2" font-weight="bold" fill="#000" stroke="#000" stroke-width="0.25" textLength="109.31" lengthAdjust="spacingAndGlyphs">Binding Energy (eV)</text>
<text transform="translate(311.40,176.30) rotate(-90)" x="-0.66" y="0" font-size="10.8" font-weight="bold" fill="#000" stroke="#000" stroke-width="0.25" textLength="71.50" lengthAdjust="spacingAndGlyphs">Intensity (a.u)</text>
<text x="357.07" y="240.00" font-size="10.0" font-weight="bold" fill="#000" stroke="#000" stroke-width="0.25" textLength="48.52" lengthAdjust="spacingAndGlyphs">0.9965 eV</text>
<text x="494.35" y="47.00" font-size="11.0" font-weight="bold" fill="#000" stroke="#000" stroke-width="0.25" textLength="9.58" lengthAdjust="spacingAndGlyphs">In</text>
<text x="503.87" y="49.80" font-size="6.2" font-weight="bold" fill="#000" stroke="#000" stroke-width="0.25" textLength="4.31" lengthAdjust="spacingAndGlyphs">2</text>
<text x="507.97" y="47.00" font-size="11.0" font-weight="bold" fill="#000" stroke="#000" stroke-width="0.25" textLength="10.22" lengthAdjust="spacingAndGlyphs">O</text>
<text x="518.15" y="49.80" font-size="6.2" font-weight="bold" fill="#000" stroke="#000" stroke-width="0.25" textLength="4.23" lengthAdjust="spacingAndGlyphs">3</text>
<text x="522.80" y="46.80" font-size="7.0" font-weight="normal" fill="#000" stroke="#000" stroke-width="0.25" textLength="2.22" lengthAdjust="spacingAndGlyphs">(</text>
<text x="525.13" y="47.00" font-size="9.8" font-weight="bold" fill="#000" stroke="#000" stroke-width="0.25" textLength="6.58" lengthAdjust="spacingAndGlyphs">c</text>
<text x="532.94" y="46.80" font-size="7.0" font-weight="normal" fill="#000" stroke="#000" stroke-width="0.25" textLength="2.05" lengthAdjust="spacingAndGlyphs">)</text>
<text x="287.91" y="16.60" font-size="13.7" font-weight="bold" fill="#000" stroke="#000" stroke-width="0.5" textLength="3.92" lengthAdjust="spacingAndGlyphs">(</text>
<text x="291.95" y="16.50" font-size="12.6" font-weight="bold" fill="#000" stroke="#000" stroke-width="0.5" textLength="9.70" lengthAdjust="spacingAndGlyphs">b</text>
<text x="301.80" y="16.60" font-size="13.7" font-weight="bold" fill="#000" stroke="#000" stroke-width="0.5" textLength="3.67" lengthAdjust="spacingAndGlyphs">)</text>
<path d="M103.00,513.80 L103.75,513.64 L104.82,513.42 L106.12,513.07 L107.60,512.50 L109.31,511.76 L111.26,510.88 L113.31,509.73 L115.30,508.20 L117.27,506.14 L119.26,503.64 L121.18,501.00 L122.90,498.50 L124.35,496.25 L125.61,494.08 L126.78,491.90 L128.00,489.60 L129.28,487.12 L130.55,484.53 L131.82,481.92 L133.10,479.40 L134.41,476.86 L135.73,474.30 L137.02,471.94 L138.20,470.00 L139.24,468.57 L140.18,467.51 L141.08,466.75 L142.00,466.20 L142.95,465.87 L143.90,465.80 L144.85,465.93 L145.80,466.20 L146.72,466.57 L147.62,467.07 L148.56,467.79 L149.60,468.80 L150.78,470.16 L152.07,471.81 L153.39,473.65 L154.70,475.60 L155.97,477.66 L157.25,479.88 L158.53,482.18 L159.80,484.50 L161.05,486.86 L162.28,489.29 L163.54,491.70 L164.90,494.00 L166.36,496.19 L167.89,498.31 L169.50,500.35 L171.20,502.30 L173.03,504.19 L174.97,506.01 L176.95,507.70 L178.90,509.20 L180.81,510.48 L182.71,511.57 L184.60,512.51 L186.50,513.30 L188.40,513.95 L190.29,514.45 L192.19,514.80 L194.10,515.00 L196.08,514.99 L198.10,514.80 L200.05,514.53 L201.80,514.30 L203.28,514.17 L204.58,514.06 L205.78,513.90 L207.00,513.60 L208.24,513.16 L209.46,512.61 L210.68,511.94 L211.90,511.10 L213.17,510.12 L214.46,508.99 L215.72,507.70 L216.90,506.20 L217.95,504.60 L218.91,502.88 L219.84,500.82 L220.80,498.20 L221.82,494.75 L222.86,490.66 L223.88,486.39 L224.80,482.40 L225.61,478.95 L226.34,475.75 L227.02,472.43 L227.70,468.60 L228.39,464.30 L229.06,459.69 L229.70,454.59 L230.30,448.80 L230.84,442.07 L231.34,434.56 L231.81,426.75 L232.30,419.10 L232.79,411.60 L233.28,404.06 L233.78,396.63 L234.30,389.50 L234.87,382.42 L235.47,375.39 L236.06,368.96 L236.60,363.70 L237.08,359.88 L237.51,357.15 L237.92,355.15 L238.30,353.50 L238.65,352.19 L238.97,351.40 L239.28,351.01 L239.60,350.90 L239.93,351.01 L240.26,351.40 L240.61,352.19 L241.00,353.50 L241.45,355.15 L241.93,357.15 L242.45,359.88 L243.00,363.70 L243.59,368.96 L244.21,375.39 L244.86,382.42 L245.50,389.50 L246.14,396.63 L246.78,404.06 L247.43,411.60 L248.10,419.10 L248.79,426.75 L249.50,434.56 L250.21,442.07 L250.90,448.80 L251.57,454.59 L252.22,459.69 L252.86,464.30 L253.50,468.60 L254.12,472.43 L254.74,475.75 L255.36,478.95 L256.00,482.40 L256.66,486.35 L257.33,490.54 L258.04,494.62 L258.80,498.20 L259.59,501.09 L260.41,503.52 L261.32,505.76 L262.40,508.10 L263.69,510.61 L265.14,513.16 L266.70,515.64 L268.30,518.00 L269.91,520.21 L271.57,522.31 L273.33,524.31 L275.20,526.20 L277.25,527.99 L279.44,529.69 L281.68,531.26 L283.90,532.70 L286.07,533.98 L288.24,535.13 L290.42,536.15 L292.60,537.10 L294.74,537.96 L296.86,538.73 L299.05,539.41 L301.40,540.00 L303.98,540.50 L306.72,540.91 L309.53,541.24 L312.30,541.50 L315.08,541.68 L317.89,541.78 L320.63,541.84 L323.20,541.90 L325.73,541.97 L328.23,542.02 L330.39,542.07 L331.90,542.10" stroke="#000" stroke-width="1.8" fill="none" stroke-linejoin="round" />
<line x1="239.5" y1="324.2" x2="239.5" y2="514.2" stroke="#f01818" stroke-width="1.1" />
<line x1="241.5" y1="497.6" x2="339.0" y2="497.6" stroke="#1cb83c" stroke-width="1.35" />
<line x1="371.0" y1="497.2" x2="461.0" y2="497.2" stroke="#1cb83c" stroke-width="1.35" />
<path d="M239.80,497.60 L245.00,495.40 L245.00,499.80Z" fill="#1fb53f" stroke="none" />
<path d="M463.30,497.20 L458.30,495.00 L458.30,499.40Z" fill="#1fb53f" stroke="none" />
<text x="340.0" y="500.0" font-size="7.0" font-weight="bold" fill="#1fae3f" text-anchor="start" textLength="28.6" lengthAdjust="spacingAndGlyphs" >458.405</text>
<line x1="101.2" y1="324.2" x2="332.4" y2="324.2" stroke="#000" stroke-width="2.0" />
<line x1="102.9" y1="323.2" x2="102.9" y2="545.8" stroke="#000" stroke-width="1.9" />
<line x1="102.0" y1="543.4" x2="332.0" y2="543.4" stroke="#000" stroke-width="1.8" />
<line x1="333.2" y1="543.4" x2="333.2" y2="547.0" stroke="#000" stroke-width="1.4" />
<line x1="316.7" y1="543.4" x2="316.7" y2="549.3" stroke="#000" stroke-width="1.4" />
<line x1="300.2" y1="543.4" x2="300.2" y2="547.0" stroke="#000" stroke-width="1.4" />
<line x1="283.7" y1="543.4" x2="283.7" y2="549.3" stroke="#000" stroke-width="1.4" />
<line x1="267.2" y1="543.4" x2="267.2" y2="547.0" stroke="#000" stroke-width="1.4" />
<line x1="250.7" y1="543.4" x2="250.7" y2="549.3" stroke="#000" stroke-width="1.4" />
<line x1="234.2" y1="543.4" x2="234.2" y2="547.0" stroke="#000" stroke-width="1.4" />
<line x1="217.7" y1="543.4" x2="217.7" y2="549.3" stroke="#000" stroke-width="1.4" />
<line x1="201.2" y1="543.4" x2="201.2" y2="547.0" stroke="#000" stroke-width="1.4" />
<line x1="184.6" y1="543.4" x2="184.6" y2="549.3" stroke="#000" stroke-width="1.4" />
<line x1="168.1" y1="543.4" x2="168.1" y2="547.0" stroke="#000" stroke-width="1.4" />
<line x1="151.6" y1="543.4" x2="151.6" y2="549.3" stroke="#000" stroke-width="1.4" />
<line x1="135.1" y1="543.4" x2="135.1" y2="547.0" stroke="#000" stroke-width="1.4" />
<line x1="118.6" y1="543.4" x2="118.6" y2="549.3" stroke="#000" stroke-width="1.4" />
<text x="307.81" y="560.90" font-size="10.4" font-weight="bold" fill="#000" stroke="#000" stroke-width="0.25" textLength="17.80" lengthAdjust="spacingAndGlyphs">454</text>
<text x="274.79" y="560.90" font-size="10.4" font-weight="bold" fill="#000" stroke="#000" stroke-width="0.25" textLength="18.12" lengthAdjust="spacingAndGlyphs">456</text>
<text x="241.77" y="560.90" font-size="10.4" font-weight="bold" fill="#000" stroke="#000" stroke-width="0.25" textLength="18.01" lengthAdjust="spacingAndGlyphs">458</text>
<text x="208.75" y="560.90" font-size="10.4" font-weight="bold" fill="#000" stroke="#000" stroke-width="0.25" textLength="18.12" lengthAdjust="spacingAndGlyphs">460</text>
<text x="175.73" y="560.90" font-size="10.4" font-weight="bold" fill="#000" stroke="#000" stroke-width="0.25" textLength="18.12" lengthAdjust="spacingAndGlyphs">462</text>
<text x="142.71" y="560.90" font-size="10.4" font-weight="bold" fill="#000" stroke="#000" stroke-width="0.25" textLength="17.80" lengthAdjust="spacingAndGlyphs">464</text>
<text x="109.69" y="560.90" font-size="10.4" font-weight="bold" fill="#000" stroke="#000" stroke-width="0.25" textLength="18.12" lengthAdjust="spacingAndGlyphs">466</text>
<text x="180.61" y="579.00" font-size="9.6" font-weight="bold" fill="#000" stroke="#000" stroke-width="0.25" textLength="93.84" lengthAdjust="spacingAndGlyphs">Binding Energy (eV)</text>
<text transform="translate(87.50,468.00) rotate(-90)" x="-0.66" y="0" font-size="9.9" font-weight="bold" fill="#000" stroke="#000" stroke-width="0.25" textLength="71.09" lengthAdjust="spacingAndGlyphs">Intensity (a.u)</text>
<text x="105.89" y="336.40" font-size="10.1" font-weight="bold" fill="#000" stroke="#000" stroke-width="0.25" textLength="17.72" lengthAdjust="spacingAndGlyphs">TiO</text>
<text x="124.23" y="339.60" font-size="6.8" font-weight="bold" fill="#000" stroke="#000" stroke-width="0.25" textLength="4.99" lengthAdjust="spacingAndGlyphs">2</text>
<text x="245.12" y="342.60" font-size="9.3" font-weight="bold" fill="#000" stroke="#000" stroke-width="0.25" textLength="6.83" lengthAdjust="spacingAndGlyphs">Ti</text>
<text x="254.34" y="342.60" font-size="9.3" font-weight="bold" fill="#000" stroke="#000" stroke-width="0.25" textLength="10.66" lengthAdjust="spacingAndGlyphs">2P</text>
<text x="266.14" y="345.20" font-size="7.0" font-weight="bold" fill="#000" stroke="#000" stroke-width="0.25" textLength="10.97" lengthAdjust="spacingAndGlyphs">3/2</text>
<text x="244.92" y="361.00" font-size="7.5" font-weight="bold" fill="#000" stroke="#000" stroke-width="0.25" textLength="35.65" lengthAdjust="spacingAndGlyphs">458.68 eV</text>
<text x="53.21" y="318.50" font-size="13.5" font-weight="bold" fill="#000" stroke="#000" stroke-width="0.5" textLength="3.92" lengthAdjust="spacingAndGlyphs">(</text>
<text x="57.16" y="318.30" font-size="13.3" font-weight="bold" fill="#000" stroke="#000" stroke-width="0.5" textLength="8.85" lengthAdjust="spacingAndGlyphs">c</text>
<text x="66.50" y="318.50" font-size="13.5" font-weight="bold" fill="#000" stroke="#000" stroke-width="0.5" textLength="3.79" lengthAdjust="spacingAndGlyphs">)</text>
<path d="M367.30,480.70 L374.00,477.00 L383.90,449.30 L394.90,396.90 L404.50,351.80 L415.30,349.80 L424.60,364.30 L428.80,374.00 L434.10,391.60 L439.30,412.70 L444.60,433.80 L449.90,458.50 L455.20,479.60 L459.60,493.60 L463.10,504.20 L465.70,511.20 L471.00,518.20 L476.40,524.00 L488.00,531.30 L496.70,535.00 L507.00,536.50" stroke="#000" stroke-width="1.9" fill="none" stroke-linejoin="round" />
<line x1="463.4" y1="367.9" x2="463.4" y2="539.0" stroke="#f05050" stroke-width="1.0" />
<line x1="430.5" y1="373.2" x2="462.2" y2="532.0" stroke="#1a1af0" stroke-width="1.2" />
<path d="M462.90,538.50 L459.60,531.00 L464.30,530.20Z" fill="#1a1af0" stroke="none" />
<line x1="415.3" y1="539.0" x2="506.5" y2="539.0" stroke="#f04040" stroke-width="2.0" />
<line x1="367.0" y1="325.2" x2="507.6" y2="325.2" stroke="#000" stroke-width="2.0" />
<line x1="507.4" y1="324.2" x2="507.4" y2="542.5" stroke="#000" stroke-width="2.0" />
<line x1="366.4" y1="541.6" x2="508.4" y2="541.6" stroke="#000" stroke-width="2.0" />
<line x1="507.2" y1="541.6" x2="507.2" y2="548.2" stroke="#000" stroke-width="1.5" />
<line x1="486.9" y1="541.6" x2="486.9" y2="545.5" stroke="#000" stroke-width="1.5" />
<line x1="466.5" y1="541.6" x2="466.5" y2="548.2" stroke="#000" stroke-width="1.5" />
<line x1="446.1" y1="541.6" x2="446.1" y2="545.5" stroke="#000" stroke-width="1.5" />
<line x1="425.8" y1="541.6" x2="425.8" y2="548.2" stroke="#000" stroke-width="1.5" />
<line x1="405.4" y1="541.6" x2="405.4" y2="545.5" stroke="#000" stroke-width="1.5" />
<line x1="385.1" y1="541.6" x2="385.1" y2="548.2" stroke="#000" stroke-width="1.5" />
<text x="382.04" y="559.50" font-size="9.6" font-weight="bold" fill="#000" stroke="#000" stroke-width="0.25" textLength="6.01" lengthAdjust="spacingAndGlyphs">8</text>
<text x="422.98" y="559.50" font-size="9.6" font-weight="bold" fill="#000" stroke="#000" stroke-width="0.25" textLength="5.56" lengthAdjust="spacingAndGlyphs">4</text>
<text x="463.35" y="559.50" font-size="9.6" font-weight="bold" fill="#000" stroke="#000" stroke-width="0.25" textLength="6.26" lengthAdjust="spacingAndGlyphs">0</text>
<text x="500.49" y="559.50" font-size="9.6" font-weight="bold" fill="#000" stroke="#000" stroke-width="0.25" textLength="9.53" lengthAdjust="spacingAndGlyphs">-4</text>
<text x="385.96" y="581.50" font-size="10.0" font-weight="bold" fill="#000" stroke="#000" stroke-width="0.25" textLength="102.53" lengthAdjust="spacingAndGlyphs">Binding Energy (eV)</text>
<text x="446.19" y="340.90" font-size="10.2" font-weight="bold" fill="#000" stroke="#000" stroke-width="0.25" textLength="17.41" lengthAdjust="spacingAndGlyphs">TiO</text>
<text x="463.43" y="343.30" font-size="6.5" font-weight="bold" fill="#000" stroke="#000" stroke-width="0.25" textLength="4.99" lengthAdjust="spacingAndGlyphs">2</text>
<text x="469.32" y="340.90" font-size="10.2" font-weight="bold" fill="#000" stroke="#000" stroke-width="0.25" textLength="3.20" lengthAdjust="spacingAndGlyphs">-</text>
<text x="472.39" y="340.90" font-size="10.2" font-weight="bold" fill="#000" stroke="#000" stroke-width="0.25" textLength="25.32" lengthAdjust="spacingAndGlyphs">VBM</text>
<text x="465.09" y="365.60" font-size="6.8" font-weight="bold" fill="#000" stroke="#000" stroke-width="0.25" textLength="30.83" lengthAdjust="spacingAndGlyphs">0.275 eV</text>
<defs>
<linearGradient id="gd_red" gradientUnits="userSpaceOnUse" x1="0" y1="752" x2="0" y2="840"><stop offset="0" stop-color="#ff0c0c"/><stop offset="0.3" stop-color="#ff5050"/><stop offset="0.62" stop-color="#fdb8b8"/><stop offset="1" stop-color="#fff6f6"/></linearGradient>
<linearGradient id="gd_blue" gradientUnits="userSpaceOnUse" x1="0" y1="656" x2="0" y2="800"><stop offset="0" stop-color="#0a0af0" stop-opacity="1"/><stop offset="1" stop-color="#f0f0ff" stop-opacity="1"/></linearGradient>
<linearGradient id="gd_mag" gradientUnits="userSpaceOnUse" x1="0" y1="753" x2="0" y2="796"><stop offset="0" stop-color="#ff00ff" stop-opacity="1"/><stop offset="1" stop-color="#f6c6f6" stop-opacity="1"/></linearGradient>
<linearGradient id="gd_olv" gradientUnits="userSpaceOnUse" x1="0" y1="771" x2="0" y2="805"><stop offset="0" stop-color="#666600" stop-opacity="1"/><stop offset="1" stop-color="#b4b49a" stop-opacity="1"/></linearGradient>
</defs>
<path d="M78.30,797.30 L82.00,798.22 L87.27,799.52 L93.48,801.02 L100.00,802.50 L107.15,804.00 L115.11,805.59 L123.01,807.14 L130.00,808.50 L135.64,809.63 L140.46,810.61 L145.04,811.46 L150.00,812.20 L155.75,812.84 L161.89,813.36 L167.76,813.75 L172.70,814.00 L176.45,814.08 L179.39,813.99 L181.84,813.81 L184.10,813.60 L186.12,813.40 L187.79,813.17 L189.31,812.83 L190.90,812.30 L192.65,811.60 L194.44,810.76 L196.15,809.72 L197.70,808.40 L199.03,806.79 L200.21,804.93 L201.29,802.82 L202.30,800.50 L203.26,797.93 L204.14,795.10 L204.96,792.10 L205.70,789.00 L206.33,785.82 L206.85,782.53 L207.37,779.10 L208.00,775.50 L208.80,771.47 L209.69,767.11 L210.59,762.94 L211.40,759.50 L212.08,756.95 L212.68,755.01 L213.24,753.51 L213.80,752.30 L214.34,751.39 L214.86,750.84 L215.37,750.57 L215.90,750.50 L216.46,750.57 L217.04,750.84 L217.62,751.39 L218.20,752.30 L218.75,753.51 L219.28,755.01 L219.85,756.95 L220.50,759.50 L221.30,762.92 L222.20,767.04 L223.10,771.40 L223.90,775.50 L224.54,779.11 L225.09,782.51 L225.62,786.04 L226.20,790.00 L226.82,794.58 L227.45,799.58 L228.15,804.73 L229.00,809.80 L230.02,814.82 L231.18,819.90 L232.42,824.85 L233.70,829.50 L235.02,833.87 L236.39,838.04 L237.80,841.88 L239.20,845.30 L240.64,848.24 L242.11,850.77 L243.53,852.95 L244.80,854.80 L245.92,856.31 L246.94,857.47 L247.81,858.34 L248.50,859.00 L248.96,859.38 L249.23,859.46 L249.38,859.42 L249.50,859.40 L78.30,799.10Z" fill="url(#gd_red)" stroke="none" />
<path d="M78.30,796.90 L80.90,797.47 L84.61,798.28 L88.89,799.18 L93.20,800.00 L97.52,800.72 L102.10,801.43 L106.78,802.10 L111.40,802.70 L115.97,803.26 L120.56,803.79 L125.10,804.22 L129.50,804.50 L133.89,804.62 L138.26,804.61 L142.35,804.47 L145.90,804.20 L148.73,803.80 L151.02,803.26 L153.02,802.60 L155.00,801.80 L157.00,800.93 L158.88,799.97 L160.65,798.80 L162.30,797.30 L163.82,795.43 L165.23,793.26 L166.51,790.84 L167.70,788.20 L168.77,785.41 L169.72,782.42 L170.59,779.15 L171.40,775.50 L172.15,771.43 L172.83,767.00 L173.47,762.27 L174.10,757.30 L174.70,752.15 L175.26,746.76 L175.84,741.07 L176.50,735.00 L177.29,728.26 L178.16,720.98 L179.05,713.71 L179.90,707.00 L180.70,700.98 L181.47,695.38 L182.23,690.08 L183.00,685.00 L183.77,680.07 L184.54,675.34 L185.32,670.95 L186.10,667.00 L186.90,663.13 L187.70,659.41 L188.50,656.61 L189.30,655.50 L190.08,656.49 L190.86,659.09 L191.63,662.78 L192.40,667.00 L193.17,671.66 L193.93,677.03 L194.70,683.14 L195.50,690.00 L196.36,698.18 L197.26,707.49 L198.13,716.80 L198.90,725.00 L199.53,731.80 L200.07,737.79 L200.57,743.19 L201.10,748.20 L201.67,752.71 L202.24,756.68 L202.82,760.37 L203.40,764.10 L204.00,767.99 L204.63,771.86 L205.21,775.55 L205.70,778.90 L206.07,781.76 L206.35,784.24 L206.58,786.61 L206.80,789.10 L207.02,792.03 L207.22,795.19 L207.38,798.03 L207.50,800.00 L207.37,779.10 L206.85,782.53 L206.33,785.82 L205.70,789.00 L204.96,792.10 L204.14,795.10 L203.26,797.93 L202.30,800.50 L201.29,802.82 L200.21,804.93 L199.03,806.79 L197.70,808.40 L196.15,809.72 L194.44,810.76 L192.65,811.60 L190.90,812.30 L189.31,812.83 L187.79,813.17 L186.12,813.40 L184.10,813.60 L181.84,813.81 L179.39,813.99 L176.45,814.08 L172.70,814.00 L167.76,813.75 L161.89,813.36 L155.75,812.84 L150.00,812.20 L145.04,811.46 L140.46,810.61 L135.64,809.63 L130.00,808.50 L123.01,807.14 L115.11,805.59 L107.15,804.00 L100.00,802.50 L93.48,801.02 L87.27,799.52 L82.00,798.22 L78.30,797.30Z" fill="url(#gd_blue)" stroke="none" />
<path d="M78.30,796.90 L80.90,797.47 L84.61,798.28 L88.89,799.18 L93.20,800.00 L97.52,800.72 L102.10,801.43 L106.78,802.10 L111.40,802.70 L115.97,803.26 L120.56,803.79 L125.10,804.22 L129.50,804.50 L133.89,804.62 L138.26,804.61 L142.35,804.47 L145.90,804.20 L148.73,803.80 L151.02,803.26 L153.02,802.60 L155.00,801.80 L157.00,800.93 L158.88,799.97 L160.65,798.80 L162.30,797.30 L163.82,795.43 L165.23,793.26 L166.51,790.84 L167.70,788.20 L168.77,785.41 L169.72,782.42 L170.59,779.15 L171.40,775.50 L172.15,771.43 L172.83,767.00 L173.47,762.27 L174.10,757.30 L174.70,752.15 L175.26,746.76 L175.84,741.07 L176.50,735.00 L177.29,728.26 L178.16,720.98 L179.05,713.71 L179.90,707.00 L180.70,700.98 L181.47,695.38 L182.23,690.08 L183.00,685.00 L183.77,680.07 L184.54,675.34 L185.32,670.95 L186.10,667.00 L186.90,663.13 L187.70,659.41 L188.50,656.61 L189.30,655.50 L190.08,656.49 L190.86,659.09 L191.63,662.78 L192.40,667.00 L193.17,671.66 L193.93,677.03 L194.70,683.14 L195.50,690.00 L196.36,698.18 L197.26,707.49 L198.13,716.80 L198.90,725.00 L199.53,731.80 L200.07,737.79 L200.57,743.19 L201.10,748.20 L201.67,752.71 L202.24,756.68 L202.82,760.37 L203.40,764.10 L204.00,767.99 L204.63,771.86 L205.21,775.55" stroke="#4040c0" stroke-width="0.8" fill="none" stroke-linejoin="round" />
<path d="M78.30,793.80 L78.94,793.56 L79.85,793.26 L80.98,792.72 L82.30,791.80 L83.87,790.60 L85.69,789.16 L87.62,787.21 L89.50,784.50 L91.40,780.53 L93.37,775.58 L95.23,770.57 L96.80,766.40 L98.01,763.29 L98.95,760.76 L99.74,758.70 L100.50,757.00 L101.22,755.75 L101.86,754.96 L102.44,754.44 L103.00,754.00 L103.53,753.60 L104.01,753.34 L104.49,753.24 L105.00,753.30 L105.53,753.43 L106.07,753.66 L106.65,754.18 L107.30,755.20 L108.04,756.89 L108.86,759.09 L109.69,761.55 L110.50,764.00 L111.27,766.47 L112.03,769.08 L112.77,771.65 L113.50,774.00 L114.22,776.07 L114.92,777.97 L115.61,779.75 L116.30,781.50 L116.97,783.18 L117.64,784.78 L118.31,786.36 L119.00,788.00 L119.75,789.81 L120.54,791.72 L121.31,793.52 L122.00,795.00 L122.62,796.10 L123.19,796.94 L123.66,797.55 L124.00,798.00 L124.00,802.50 L100.00,800.50 L78.30,797.00Z" fill="url(#gd_mag)" stroke="none" />
<path d="M78.30,796.40 L79.18,796.63 L80.41,796.96 L82.03,797.31 L84.10,797.60 L86.83,797.87 L90.13,798.14 L93.59,798.30 L96.80,798.20 L99.76,797.82 L102.64,797.23 L105.33,796.45 L107.70,795.50 L109.67,794.36 L111.34,793.02 L112.78,791.55 L114.10,790.00 L115.28,788.29 L116.29,786.41 L117.18,784.57 L118.00,783.00 L118.70,781.82 L119.28,780.91 L119.84,780.04 L120.50,779.00 L121.32,777.65 L122.23,776.12 L123.15,774.66 L124.00,773.50 L124.75,772.66 L125.45,772.03 L126.12,771.64 L126.80,771.50 L127.48,771.64 L128.15,772.03 L128.82,772.66 L129.50,773.50 L130.15,774.50 L130.79,775.69 L131.48,777.16 L132.30,779.00 L133.30,781.41 L134.44,784.28 L135.63,787.26 L136.80,790.00 L137.95,792.48 L139.10,794.86 L140.25,797.06 L141.40,799.00 L142.64,800.69 L143.94,802.16 L145.09,803.35 L145.90,804.20 L145.90,804.20 L129.50,804.50 L111.40,802.70 L93.20,800.00 L78.30,796.90Z" fill="url(#gd_olv)" stroke="none" />
<path d="M111.34,793.02 L112.78,791.55 L114.10,790.00 L115.28,788.29 L116.29,786.41 L117.18,784.57 L118.00,783.00 L118.70,781.82 L119.28,780.91 L119.84,780.04 L120.50,779.00 L121.32,777.65 L122.23,776.12 L123.15,774.66 L124.00,773.50 L124.75,772.66 L125.45,772.03 L126.12,771.64 L126.80,771.50 L127.48,771.64 L128.15,772.03 L128.82,772.66 L129.50,773.50 L130.15,774.50 L130.79,775.69 L131.48,777.16 L132.30,779.00 L133.30,781.41 L134.44,784.28 L135.63,787.26 L136.80,790.00 L137.95,792.48 L139.10,794.86 L140.25,797.06 L141.40,799.00 L142.64,800.69 L143.94,802.16 L145.09,803.35 L145.90,804.20" stroke="#3a9a3a" stroke-width="0.8" fill="none" stroke-linejoin="round" />
<path d="M186.12,813.40 L187.79,813.17 L189.31,812.83 L190.90,812.30 L192.65,811.60 L194.44,810.76 L196.15,809.72 L197.70,808.40 L199.03,806.79 L200.21,804.93 L201.29,802.82 L202.30,800.50 L203.26,797.93 L204.14,795.10 L204.96,792.10 L205.70,789.00 L206.33,785.82 L206.85,782.53 L207.37,779.10 L208.00,775.50 L208.80,771.47 L209.69,767.11 L210.59,762.94 L211.40,759.50 L212.08,756.95 L212.68,755.01 L213.24,753.51 L213.80,752.30 L214.34,751.39 L214.86,750.84 L215.37,750.57 L215.90,750.50 L216.46,750.57 L217.04,750.84 L217.62,751.39 L218.20,752.30 L218.75,753.51 L219.28,755.01 L219.85,756.95 L220.50,759.50 L221.30,762.92 L222.20,767.04 L223.10,771.40 L223.90,775.50 L224.54,779.11 L225.09,782.51 L225.62,786.04 L226.20,790.00 L226.82,794.58 L227.45,799.58 L228.15,804.73 L229.00,809.80 L230.02,814.82 L231.18,819.90 L232.42,824.85 L233.70,829.50 L235.02,833.87 L236.39,838.04 L237.80,841.88 L239.20,845.30 L240.64,848.24 L242.11,850.77 L243.53,852.95 L244.80,854.80 L245.92,856.31 L246.94,857.47 L247.81,858.34 L248.50,859.00 L248.96,859.38 L249.23,859.46 L249.38,859.42 L249.50,859.40" stroke="#f03030" stroke-width="0.8" fill="none" stroke-linejoin="round" />
<line x1="78.3" y1="799.4" x2="250.0" y2="861.3" stroke="#f04848" stroke-width="0.9" />
<line x1="78.3" y1="800.7" x2="236.0" y2="858.0" stroke="#3aa03a" stroke-width="0.8" />
<line x1="198.9" y1="842.5" x2="218.2" y2="859.5" stroke="#3a3aa0" stroke-width="0.9" />
<line x1="229.5" y1="852.7" x2="236.4" y2="859.5" stroke="#5a3ab0" stroke-width="0.9" />
<line x1="200.0" y1="845.0" x2="240.0" y2="859.1" stroke="#7050c0" stroke-width="0.8" />
<path d="M78.30,790.00 L79.67,788.15 L81.64,785.52 L83.84,782.38 L85.90,779.00 L87.75,775.26 L89.57,771.07 L91.38,766.77 L93.20,762.70 L95.07,758.72 L96.97,754.72 L98.81,751.09 L100.50,748.20 L101.98,746.20 L103.31,744.88 L104.59,744.06 L105.90,743.60 L107.27,743.60 L108.65,744.09 L110.03,744.82 L111.40,745.50 L112.75,746.10 L114.10,746.74 L115.45,747.44 L116.80,748.20 L118.17,749.03 L119.55,749.94 L120.93,750.87 L122.30,751.80 L123.65,752.64 L125.00,753.42 L126.35,754.33 L127.70,755.50 L129.07,757.01 L130.45,758.76 L131.83,760.68 L133.20,762.70 L134.55,764.89 L135.90,767.25 L137.25,769.61 L138.60,771.80 L139.97,773.77 L141.35,775.62 L142.73,777.36 L144.10,779.00 L145.45,780.55 L146.80,781.99 L148.15,783.32 L149.50,784.50 L150.87,785.55 L152.24,786.47 L153.62,787.23 L155.00,787.80 L156.38,788.24 L157.76,788.55 L159.13,788.58 L160.50,788.20 L161.93,787.29 L163.40,785.96 L164.77,784.37 L165.90,782.70 L166.67,781.10 L167.18,779.44 L167.62,777.49 L168.20,775.00 L168.96,771.95 L169.79,768.45 L170.67,764.48 L171.60,760.00 L172.60,754.98 L173.67,749.44 L174.73,743.46 L175.70,737.10 L176.54,730.23 L177.31,722.85 L178.04,715.28 L178.80,707.80 L179.60,700.42 L180.40,693.01 L181.20,685.67 L182.00,678.50 L182.80,671.20 L183.60,663.83 L184.38,657.02 L185.10,651.40 L185.77,647.27 L186.41,644.24 L186.99,641.94 L187.50,640.00 L187.92,638.38 L188.25,637.27 L188.56,636.59 L188.90,636.30 L189.28,636.45 L189.67,637.04 L190.07,637.94 L190.50,639.00 L190.95,640.27 L191.42,641.79 L191.90,643.42 L192.40,645.00 L192.92,646.52 L193.46,648.06 L194.00,649.57 L194.50,651.00 L194.93,652.11 L195.31,653.00 L195.71,654.14 L196.20,656.00 L196.82,658.91 L197.53,662.56 L198.27,666.43 L199.00,670.00 L199.69,673.18 L200.38,676.22 L201.07,679.15 L201.80,682.00 L202.55,684.78 L203.31,687.49 L204.12,690.07 L205.00,692.50 L206.00,694.78 L207.09,696.92 L208.19,698.91 L209.20,700.70 L210.11,702.21 L210.97,703.49 L211.77,704.70 L212.50,706.00 L213.16,707.32 L213.75,708.62 L214.29,710.09 L214.80,711.90 L215.23,714.10 L215.60,716.60 L215.99,719.37 L216.50,722.40 L217.15,725.73 L217.88,729.35 L218.70,733.17 L219.60,737.10 L220.63,741.06 L221.79,745.12 L222.95,749.40 L224.00,754.00 L224.93,759.22 L225.80,764.90 L226.59,770.51 L227.30,775.50 L227.80,779.49 L228.13,782.86 L228.55,786.17 L229.30,790.00 L230.53,794.67 L232.08,799.82 L233.74,805.01 L235.30,809.80 L236.73,814.12 L238.13,818.20 L239.49,822.02 L240.80,825.60 L242.09,828.89 L243.35,831.89 L244.54,834.71 L245.60,837.40 L246.51,839.97 L247.30,842.39 L248.01,844.69 L248.70,846.90 L249.39,849.06 L250.04,851.14 L250.63,853.08 L251.10,854.80 L251.43,856.33 L251.65,857.69 L251.79,858.81 L251.90,859.60" stroke="#404040" stroke-width="0.8" fill="none" stroke-linejoin="round" />
<path d="M78.30,787.80 L79.67,785.64 L81.64,782.56 L83.84,779.02 L85.90,775.50 L87.79,771.97 L89.69,768.23 L91.52,764.47 L93.20,760.90 L94.72,757.46 L96.12,754.09 L97.41,750.95 L98.60,748.20 L99.65,745.87 L100.56,743.87 L101.42,742.21 L102.30,740.90 L103.21,739.96 L104.11,739.38 L105.00,739.10 L105.90,739.10 L106.80,739.37 L107.69,739.94 L108.59,740.76 L109.50,741.80 L110.38,743.18 L111.24,744.89 L112.15,746.65 L113.20,748.20 L114.43,749.54 L115.79,750.79 L117.20,751.87 L118.60,752.70 L120.01,753.18 L121.46,753.38 L122.86,753.46 L124.10,753.60 L125.13,753.74 L126.01,753.82 L126.84,754.01 L127.70,754.50 L128.58,755.28 L129.44,756.29 L130.35,757.55 L131.40,759.10 L132.63,761.06 L133.99,763.37 L135.40,765.82 L136.80,768.20 L138.17,770.52 L139.55,772.87 L140.93,775.16 L142.30,777.30 L143.65,779.32 L145.00,781.26 L146.35,783.02 L147.70,784.50 L149.07,785.68 L150.45,786.61 L151.83,787.31 L153.20,787.80 L154.57,788.12 L155.93,788.24 L157.28,788.09 L158.60,787.60 L159.92,786.70 L161.22,785.46 L162.47,783.96 L163.60,782.30 L164.58,780.42 L165.46,778.29 L166.25,776.10 L167.00,774.00 L167.67,772.19 L168.26,770.54 L168.85,768.71 L169.50,766.40 L170.26,763.45 L171.07,760.05 L171.90,756.40 L172.70,752.70 L173.44,749.35 L174.14,746.14 L174.87,742.30 L175.70,737.10 L176.69,729.93 L177.79,721.33 L178.90,712.24 L179.90,703.60 L180.75,695.52 L181.52,687.56 L182.25,679.79 L183.00,672.30 L183.79,664.81 L184.59,657.38 L185.37,650.60 L186.10,645.10 L186.76,641.22 L187.38,638.57 L187.96,636.66 L188.50,635.00 L188.99,633.51 L189.44,632.43 L189.87,631.76 L190.30,631.50 L190.74,631.66 L191.17,632.25 L191.59,633.21 L192.00,634.50 L192.35,635.85 L192.66,637.38 L193.02,639.59 L193.50,643.00 L194.16,648.26 L194.94,654.92 L195.77,661.87 L196.60,668.00 L197.42,673.06 L198.26,677.64 L199.09,681.84 L199.90,685.80 L200.68,689.52 L201.44,692.94 L202.19,696.09 L202.90,699.00 L203.58,701.73 L204.23,704.25 L204.87,706.44 L205.50,708.20 L206.12,709.38 L206.72,710.08 L207.34,710.54 L208.00,711.00 L208.73,711.43 L209.50,711.73 L210.30,712.04 L211.10,712.50 L211.92,712.98 L212.75,713.46 L213.58,714.23 L214.40,715.60 L215.19,717.76 L215.96,720.51 L216.73,723.55 L217.50,726.60 L218.30,729.62 L219.11,732.74 L219.90,735.95 L220.60,739.20 L221.18,742.29 L221.67,745.31 L222.15,748.65 L222.70,752.70 L223.35,757.94 L224.06,764.04 L224.79,770.17 L225.50,775.50 L226.14,779.58 L226.73,782.94 L227.39,786.20 L228.20,790.00 L229.22,794.67 L230.37,799.82 L231.62,805.01 L232.90,809.80 L234.24,814.12 L235.64,818.20 L237.06,822.02 L238.40,825.60 L239.63,828.85 L240.80,831.79 L241.97,834.59 L243.20,837.40 L244.54,840.34 L245.95,843.29 L247.36,846.08 L248.70,848.50 L249.91,850.45 L251.05,852.04 L252.21,853.44 L253.50,854.80 L255.12,856.22 L256.95,857.59 L258.63,858.77 L259.80,859.60" stroke="#f04040" stroke-width="0.9" fill="none" stroke-linejoin="round" />
<rect x="77.9" y="608.0" width="192.9" height="251.8" fill="none" stroke="#000" stroke-width="1.4"/>
<line x1="257.3" y1="859.8" x2="257.3" y2="863.8" stroke="#000" stroke-width="1.2" />
<line x1="242.3" y1="859.8" x2="242.3" y2="862.0" stroke="#000" stroke-width="1.2" />
<line x1="227.4" y1="859.8" x2="227.4" y2="863.8" stroke="#000" stroke-width="1.2" />
<line x1="212.4" y1="859.8" x2="212.4" y2="862.0" stroke="#000" stroke-width="1.2" />
<line x1="197.5" y1="859.8" x2="197.5" y2="863.8" stroke="#000" stroke-width="1.2" />
<line x1="182.6" y1="859.8" x2="182.6" y2="862.0" stroke="#000" stroke-width="1.2" />
<line x1="167.6" y1="859.8" x2="167.6" y2="863.8" stroke="#000" stroke-width="1.2" />
<line x1="152.7" y1="859.8" x2="152.7" y2="862.0" stroke="#000" stroke-width="1.2" />
<line x1="137.7" y1="859.8" x2="137.7" y2="863.8" stroke="#000" stroke-width="1.2" />
<line x1="122.8" y1="859.8" x2="122.8" y2="862.0" stroke="#000" stroke-width="1.2" />
<line x1="107.8" y1="859.8" x2="107.8" y2="863.8" stroke="#000" stroke-width="1.2" />
<line x1="92.9" y1="859.8" x2="92.9" y2="862.0" stroke="#000" stroke-width="1.2" />
<line x1="77.9" y1="859.8" x2="77.9" y2="863.8" stroke="#000" stroke-width="1.2" />
<text x="246.57" y="875.80" font-size="12.0" font-weight="bold" fill="#000" stroke="#000" stroke-width="0.25" textLength="21.43" lengthAdjust="spacingAndGlyphs">454</text>
<text x="216.67" y="875.80" font-size="12.0" font-weight="bold" fill="#000" stroke="#000" stroke-width="0.25" textLength="21.83" lengthAdjust="spacingAndGlyphs">456</text>
<text x="186.77" y="875.80" font-size="12.0" font-weight="bold" fill="#000" stroke="#000" stroke-width="0.25" textLength="21.70" lengthAdjust="spacingAndGlyphs">458</text>
<text x="156.87" y="875.80" font-size="12.0" font-weight="bold" fill="#000" stroke="#000" stroke-width="0.25" textLength="21.83" lengthAdjust="spacingAndGlyphs">460</text>
<text x="126.97" y="875.80" font-size="12.0" font-weight="bold" fill="#000" stroke="#000" stroke-width="0.25" textLength="21.83" lengthAdjust="spacingAndGlyphs">462</text>
<text x="97.07" y="875.80" font-size="12.0" font-weight="bold" fill="#000" stroke="#000" stroke-width="0.25" textLength="21.43" lengthAdjust="spacingAndGlyphs">464</text>
<text x="67.17" y="875.80" font-size="12.0" font-weight="bold" fill="#000" stroke="#000" stroke-width="0.25" textLength="21.83" lengthAdjust="spacingAndGlyphs">466</text>
<text x="113.42" y="901.70" font-size="10.5" font-weight="bold" fill="#000" stroke="#000" stroke-width="0.25" textLength="107.89" lengthAdjust="spacingAndGlyphs">Binding Energy (eV)</text>
<text transform="translate(37.80,763.50) rotate(-90)" x="-0.65" y="0" font-size="10.2" font-weight="bold" fill="#000" stroke="#000" stroke-width="0.25" textLength="70.89" lengthAdjust="spacingAndGlyphs">Intensity (a.u)</text>
<text x="82.37" y="620.80" font-size="10.5" font-weight="bold" fill="#000" stroke="#000" stroke-width="0.25" textLength="9.35" lengthAdjust="spacingAndGlyphs">In</text>
<text x="92.59" y="623.70" font-size="6.0" font-weight="bold" fill="#000" stroke="#000" stroke-width="0.25" textLength="3.97" lengthAdjust="spacingAndGlyphs">2</text>
<text x="96.50" y="620.80" font-size="10.5" font-weight="bold" fill="#000" stroke="#000" stroke-width="0.25" textLength="7.78" lengthAdjust="spacingAndGlyphs">O</text>
<text x="105.16" y="623.70" font-size="6.0" font-weight="bold" fill="#000" stroke="#000" stroke-width="0.25" textLength="3.89" lengthAdjust="spacingAndGlyphs">3</text>
<text x="110.31" y="620.60" font-size="6.6" font-weight="normal" fill="#000" stroke="#000" stroke-width="0.25" textLength="1.60" lengthAdjust="spacingAndGlyphs">(</text>
<text x="113.03" y="620.80" font-size="9.8" font-weight="bold" fill="#000" stroke="#000" stroke-width="0.25" textLength="6.58" lengthAdjust="spacingAndGlyphs">c</text>
<text x="120.85" y="620.60" font-size="6.6" font-weight="normal" fill="#000" stroke="#000" stroke-width="0.25" textLength="1.79" lengthAdjust="spacingAndGlyphs">)</text>
<text x="128.20" y="620.80" font-size="10.5" font-weight="bold" fill="#000" stroke="#000" stroke-width="0.25" textLength="3.33" lengthAdjust="spacingAndGlyphs">-</text>
<text x="135.70" y="620.80" font-size="10.5" font-weight="bold" fill="#000" stroke="#000" stroke-width="0.25" textLength="16.69" lengthAdjust="spacingAndGlyphs">TiO</text>
<text x="152.70" y="622.80" font-size="6.0" font-weight="bold" fill="#000" stroke="#000" stroke-width="0.25" textLength="3.63" lengthAdjust="spacingAndGlyphs">2</text>
<text x="244.60" y="619.00" font-size="9.6" font-weight="bold" fill="#000" stroke="#000" stroke-width="0.25" textLength="24.12" lengthAdjust="spacingAndGlyphs">Ti 2P</text>
<text x="28.61" y="633.30" font-size="13.3" font-weight="bold" fill="#000" stroke="#000" stroke-width="0.5" textLength="3.92" lengthAdjust="spacingAndGlyphs">(</text>
<text x="32.88" y="633.60" font-size="13.3" font-weight="bold" fill="#000" stroke="#000" stroke-width="0.5" textLength="9.46" lengthAdjust="spacingAndGlyphs">d</text>
<text x="42.80" y="633.30" font-size="13.3" font-weight="bold" fill="#000" stroke="#000" stroke-width="0.5" textLength="4.02" lengthAdjust="spacingAndGlyphs">)</text>
<defs>
<linearGradient id="gd_b2" gradientUnits="userSpaceOnUse" x1="0" y1="756" x2="0" y2="838"><stop offset="0" stop-color="#1010f0" stop-opacity="1"/><stop offset="1" stop-color="#ffffff" stop-opacity="1"/></linearGradient>
<linearGradient id="gd_r2" gradientUnits="userSpaceOnUse" x1="0" y1="741" x2="0" y2="830"><stop offset="0" stop-color="#ff1030" stop-opacity="1"/><stop offset="1" stop-color="#fff0f0" stop-opacity="1"/></linearGradient>
</defs>
<path d="M378.70,765.10 L379.24,764.76 L380.01,764.27 L380.86,763.66 L381.60,762.90 L382.20,761.94 L382.74,760.79 L383.27,759.60 L383.80,758.50 L384.33,757.56 L384.86,756.70 L385.40,755.84 L386.00,754.90 L386.69,753.72 L387.45,752.38 L388.21,751.20 L388.90,750.50 L389.50,750.36 L390.04,750.61 L390.57,751.18 L391.10,752.00 L391.65,753.04 L392.20,754.36 L392.75,755.94 L393.30,757.80 L393.85,760.08 L394.41,762.72 L394.96,765.45 L395.50,768.00 L396.01,770.35 L396.51,772.63 L397.02,774.76 L397.60,776.70 L398.23,778.34 L398.91,779.73 L399.65,781.06 L400.50,782.50 L401.49,784.13 L402.61,785.84 L403.76,787.54 L404.90,789.10 L405.98,790.48 L407.06,791.74 L408.15,792.96 L409.30,794.20 L410.53,795.50 L411.81,796.82 L413.11,798.10 L414.40,799.30 L415.52,800.30 L416.54,801.17 L417.77,802.10 L419.50,803.30 L421.88,804.94 L424.71,806.87 L427.84,808.82 L431.10,810.50 L434.59,811.80 L438.34,812.88 L442.10,813.87 L445.60,814.90 L448.72,816.00 L451.63,817.11 L454.45,818.21 L457.30,819.30 L460.27,820.34 L463.29,821.36 L466.21,822.41 L468.90,823.60 L471.28,824.90 L473.42,826.28 L475.49,827.79 L477.60,829.50 L479.73,831.41 L481.82,833.49 L484.00,835.76 L486.40,838.20 L489.10,840.96 L492.02,844.00 L495.03,847.04 L498.00,849.80 L501.13,852.34 L504.41,854.75 L507.38,856.86 L509.60,858.50 L510.80,859.52 L511.28,860.04 L511.39,860.30 L511.50,860.50 L511.50,861.00 L378.70,861.00Z" fill="url(#gd_b2)" stroke="none" />
<path d="M398.50,778.50 L398.80,779.16 L399.22,780.09 L399.78,781.22 L400.50,782.50 L401.43,784.00 L402.55,785.73 L403.74,787.49 L404.90,789.10 L405.98,790.48 L407.06,791.74 L408.15,792.96 L409.30,794.20 L410.53,795.50 L411.81,796.82 L413.11,798.10 L414.40,799.30 L415.59,800.34 L416.72,801.26 L417.97,802.20 L419.50,803.30 L421.29,804.64 L423.26,806.12 L425.53,807.65 L428.20,809.10 L431.56,810.52 L435.48,811.94 L439.37,813.24 L442.70,814.30 L445.28,815.07 L447.41,815.62 L449.27,816.02 L451.00,816.30 L452.62,816.49 L454.06,816.56 L455.35,816.50 L456.50,816.30 L457.48,815.97 L458.29,815.51 L459.03,814.90 L459.80,814.10 L460.65,813.14 L461.52,812.01 L462.35,810.68 L463.10,809.10 L463.74,807.32 L464.31,805.34 L464.82,803.05 L465.30,800.30 L465.73,796.96 L466.10,793.13 L466.47,789.06 L466.90,785.00 L467.42,780.96 L467.99,776.83 L468.57,772.65 L469.10,768.50 L469.56,764.23 L469.99,759.88 L470.39,755.70 L470.80,752.00 L471.20,748.46 L471.60,745.06 L472.00,742.51 L472.40,741.50 L472.82,742.51 L473.25,745.06 L473.68,748.46 L474.10,752.00 L474.50,755.70 L474.90,759.88 L475.30,764.23 L475.70,768.50 L476.12,772.65 L476.55,776.82 L476.98,780.96 L477.40,785.00 L477.80,788.98 L478.20,792.93 L478.60,796.73 L479.00,800.30 L479.41,803.63 L479.81,806.76 L480.24,809.68 L480.70,812.40 L481.18,814.82 L481.69,816.97 L482.25,819.04 L482.90,821.20 L483.56,823.43 L484.24,825.65 L485.13,827.97 L486.40,830.50 L488.21,833.35 L490.42,836.44 L492.80,839.56 L495.10,842.50 L497.28,845.26 L499.45,847.92 L501.63,850.43 L503.80,852.70 L506.18,854.80 L508.69,856.74 L510.94,858.36 L512.50,859.50 L511.50,860.50 L511.39,860.30 L511.28,860.04 L510.80,859.52 L509.60,858.50 L507.38,856.86 L504.41,854.75 L501.13,852.34 L498.00,849.80 L495.03,847.04 L492.02,844.00 L489.10,840.96 L486.40,838.20 L484.00,835.76 L481.82,833.49 L479.73,831.41 L477.60,829.50 L475.49,827.79 L473.42,826.28 L471.28,824.90 L468.90,823.60 L466.21,822.41 L463.29,821.36 L460.27,820.34 L457.30,819.30 L454.45,818.21 L451.63,817.11 L448.72,816.00 L445.60,814.90 L442.10,813.87 L438.34,812.88 L434.59,811.80 L431.10,810.50 L427.84,808.82 L424.71,806.87 L421.88,804.94 L419.50,803.30 L417.77,802.10 L416.54,801.17 L415.52,800.30 L414.40,799.30 L413.11,798.10 L411.81,796.82 L410.53,795.50 L409.30,794.20 L408.15,792.96 L407.06,791.74 L405.98,790.48 L404.90,789.10 L403.76,787.54 L402.61,785.84 L401.49,784.13 L400.50,782.50 L399.65,781.06 L398.91,779.73Z" fill="url(#gd_r2)" stroke="none" />
<path d="M398.50,778.50 L398.80,779.16 L399.22,780.09 L399.78,781.22 L400.50,782.50 L401.43,784.00 L402.55,785.73 L403.74,787.49 L404.90,789.10 L405.98,790.48 L407.06,791.74 L408.15,792.96 L409.30,794.20 L410.53,795.50 L411.81,796.82 L413.11,798.10 L414.40,799.30 L415.59,800.34 L416.72,801.26 L417.97,802.20 L419.50,803.30 L421.29,804.64 L423.26,806.12 L425.53,807.65 L428.20,809.10 L431.56,810.52 L435.48,811.94 L439.37,813.24 L442.70,814.30 L445.28,815.07 L447.41,815.62 L449.27,816.02 L451.00,816.30 L452.62,816.49 L454.06,816.56 L455.35,816.50 L456.50,816.30 L457.48,815.97 L458.29,815.51 L459.03,814.90 L459.80,814.10 L460.65,813.14 L461.52,812.01 L462.35,810.68 L463.10,809.10 L463.74,807.32 L464.31,805.34 L464.82,803.05 L465.30,800.30 L465.73,796.96 L466.10,793.13 L466.47,789.06 L466.90,785.00 L467.42,780.96 L467.99,776.83 L468.57,772.65 L469.10,768.50 L469.56,764.23 L469.99,759.88 L470.39,755.70 L470.80,752.00 L471.20,748.46 L471.60,745.06 L472.00,742.51 L472.40,741.50 L472.82,742.51 L473.25,745.06 L473.68,748.46 L474.10,752.00 L474.50,755.70 L474.90,759.88 L475.30,764.23 L475.70,768.50 L476.12,772.65 L476.55,776.82 L476.98,780.96 L477.40,785.00 L477.80,788.98 L478.20,792.93 L478.60,796.73 L479.00,800.30 L479.41,803.63 L479.81,806.76 L480.24,809.68 L480.70,812.40 L481.18,814.82 L481.69,816.97 L482.25,819.04 L482.90,821.20 L483.56,823.43 L484.24,825.65 L485.13,827.97 L486.40,830.50 L488.21,833.35 L490.42,836.44 L492.80,839.56 L495.10,842.50 L497.28,845.26 L499.45,847.92 L501.63,850.43 L503.80,852.70 L506.18,854.80 L508.69,856.74 L510.94,858.36 L512.50,859.50" stroke="#f040d0" stroke-width="1.0" fill="none" stroke-linejoin="round" />
<path d="M378.70,765.10 L379.24,764.76 L380.01,764.27 L380.86,763.66 L381.60,762.90 L382.20,761.94 L382.74,760.79 L383.27,759.60 L383.80,758.50 L384.33,757.56 L384.86,756.70 L385.40,755.84 L386.00,754.90 L386.69,753.72 L387.45,752.38 L388.21,751.20 L388.90,750.50 L389.50,750.36 L390.04,750.61 L390.57,751.18 L391.10,752.00 L391.65,753.04 L392.20,754.36 L392.75,755.94 L393.30,757.80 L393.85,760.08 L394.41,762.72 L394.96,765.45 L395.50,768.00 L396.01,770.35 L396.51,772.63 L397.02,774.76 L397.60,776.70 L398.23,778.34 L398.91,779.73 L399.65,781.06 L400.50,782.50 L401.49,784.13 L402.61,785.84 L403.76,787.54 L404.90,789.10 L405.98,790.48 L407.06,791.74 L408.15,792.96 L409.30,794.20 L410.53,795.50 L411.81,796.82 L413.11,798.10 L414.40,799.30 L415.52,800.30 L416.54,801.17 L417.77,802.10 L419.50,803.30 L421.88,804.94 L424.71,806.87 L427.84,808.82 L431.10,810.50 L434.59,811.80 L438.34,812.88 L442.10,813.87 L445.60,814.90 L448.72,816.00 L451.63,817.11 L454.45,818.21 L457.30,819.30 L460.27,820.34 L463.29,821.36 L466.21,822.41 L468.90,823.60 L471.28,824.90 L473.42,826.28 L475.49,827.79 L477.60,829.50 L479.73,831.41 L481.82,833.49 L484.00,835.76 L486.40,838.20 L489.10,840.96 L492.02,844.00 L495.03,847.04 L498.00,849.80 L501.13,852.34 L504.41,854.75 L507.38,856.86 L509.60,858.50 L510.80,859.52 L511.28,860.04 L511.39,860.30 L511.50,860.50" stroke="#6060f0" stroke-width="0.9" fill="none" stroke-linejoin="round" />
<line x1="378.7" y1="765.1" x2="378.7" y2="861.5" stroke="#8080ff" stroke-width="1.0" />
<path d="M372.30,727.50 L373.20,734.50 L374.40,746.20 L375.50,760.70 L377.30,765.10 L378.70,763.60 L381.60,760.70 L384.50,757.80 L387.50,749.10 L390.40,738.90 L393.30,752.00 L396.20,763.60 L397.60,775.30 L399.10,778.20" stroke="#505050" stroke-width="0.8" fill="none" stroke-linejoin="round" />
<path d="M463.10,809.10 L463.60,798.10 L465.30,785.00 L467.50,768.50 L469.70,755.30 L471.90,743.20 L473.50,748.00 L475.20,757.50 L476.80,768.50 L477.90,769.60 L479.60,785.00 L481.20,801.40 L482.90,817.90 L484.90,822.00" stroke="#505050" stroke-width="0.8" fill="none" stroke-linejoin="round" />
<path d="M509.60,857.00 L511.00,860.00 L512.50,855.50 L514.00,860.50 L515.50,856.00 L517.00,860.80 L518.50,855.80 L520.00,860.50" stroke="#505050" stroke-width="0.8" fill="none" stroke-linejoin="round" />
<rect x="372.3" y="608.9" width="149.0" height="252.7" fill="none" stroke="#000" stroke-width="1.4"/>
<line x1="522.7" y1="861.6" x2="522.7" y2="866.6" stroke="#000" stroke-width="1.2" />
<line x1="501.1" y1="861.6" x2="501.1" y2="864.0" stroke="#000" stroke-width="1.2" />
<line x1="479.5" y1="861.6" x2="479.5" y2="866.6" stroke="#000" stroke-width="1.2" />
<line x1="458.0" y1="861.6" x2="458.0" y2="864.0" stroke="#000" stroke-width="1.2" />
<line x1="436.4" y1="861.6" x2="436.4" y2="866.6" stroke="#000" stroke-width="1.2" />
<line x1="414.9" y1="861.6" x2="414.9" y2="864.0" stroke="#000" stroke-width="1.2" />
<line x1="393.3" y1="861.6" x2="393.3" y2="866.6" stroke="#000" stroke-width="1.2" />
<line x1="371.7" y1="861.6" x2="371.7" y2="864.0" stroke="#000" stroke-width="1.2" />
<text x="383.18" y="880.00" font-size="10.4" font-weight="bold" fill="#000" stroke="#000" stroke-width="0.25" textLength="20.60" lengthAdjust="spacingAndGlyphs">452</text>
<text x="426.30" y="880.00" font-size="10.4" font-weight="bold" fill="#000" stroke="#000" stroke-width="0.25" textLength="20.47" lengthAdjust="spacingAndGlyphs">448</text>
<text x="469.42" y="880.00" font-size="10.4" font-weight="bold" fill="#000" stroke="#000" stroke-width="0.25" textLength="20.22" lengthAdjust="spacingAndGlyphs">444</text>
<text x="512.54" y="880.00" font-size="10.4" font-weight="bold" fill="#000" stroke="#000" stroke-width="0.25" textLength="20.60" lengthAdjust="spacingAndGlyphs">440</text>
<text x="402.82" y="901.40" font-size="10.5" font-weight="bold" fill="#000" stroke="#000" stroke-width="0.25" textLength="108.09" lengthAdjust="spacingAndGlyphs">Binding Energy (eV)</text>
<text transform="translate(354.70,758.90) rotate(-90)" x="-0.66" y="0" font-size="10.0" font-weight="bold" fill="#000" stroke="#000" stroke-width="0.25" textLength="71.40" lengthAdjust="spacingAndGlyphs">Intensity (a.u)</text>
<text x="378.07" y="620.80" font-size="10.5" font-weight="bold" fill="#000" stroke="#000" stroke-width="0.25" textLength="9.35" lengthAdjust="spacingAndGlyphs">In</text>
<text x="388.29" y="623.70" font-size="6.0" font-weight="bold" fill="#000" stroke="#000" stroke-width="0.25" textLength="3.97" lengthAdjust="spacingAndGlyphs">2</text>
<text x="392.20" y="620.80" font-size="10.5" font-weight="bold" fill="#000" stroke="#000" stroke-width="0.25" textLength="7.78" lengthAdjust="spacingAndGlyphs">O</text>
<text x="400.86" y="623.70" font-size="6.0" font-weight="bold" fill="#000" stroke="#000" stroke-width="0.25" textLength="3.89" lengthAdjust="spacingAndGlyphs">3</text>
<text x="406.01" y="620.60" font-size="6.6" font-weight="normal" fill="#000" stroke="#000" stroke-width="0.25" textLength="1.60" lengthAdjust="spacingAndGlyphs">(</text>
<text x="408.73" y="620.80" font-size="9.8" font-weight="bold" fill="#000" stroke="#000" stroke-width="0.25" textLength="6.58" lengthAdjust="spacingAndGlyphs">c</text>
<text x="416.55" y="620.60" font-size="6.6" font-weight="normal" fill="#000" stroke="#000" stroke-width="0.25" textLength="1.79" lengthAdjust="spacingAndGlyphs">)</text>
<text x="423.90" y="620.80" font-size="10.5" font-weight="bold" fill="#000" stroke="#000" stroke-width="0.25" textLength="3.33" lengthAdjust="spacingAndGlyphs">-</text>
<text x="431.40" y="620.80" font-size="10.5" font-weight="bold" fill="#000" stroke="#000" stroke-width="0.25" textLength="16.69" lengthAdjust="spacingAndGlyphs">TiO</text>
<text x="448.40" y="622.80" font-size="6.0" font-weight="bold" fill="#000" stroke="#000" stroke-width="0.25" textLength="3.63" lengthAdjust="spacingAndGlyphs">2</text>
<text x="492.80" y="620.30" font-size="9.4" font-weight="bold" fill="#000" stroke="#000" stroke-width="0.25" textLength="27.13" lengthAdjust="spacingAndGlyphs">In 3d</text>
</svg></div></body></html>
